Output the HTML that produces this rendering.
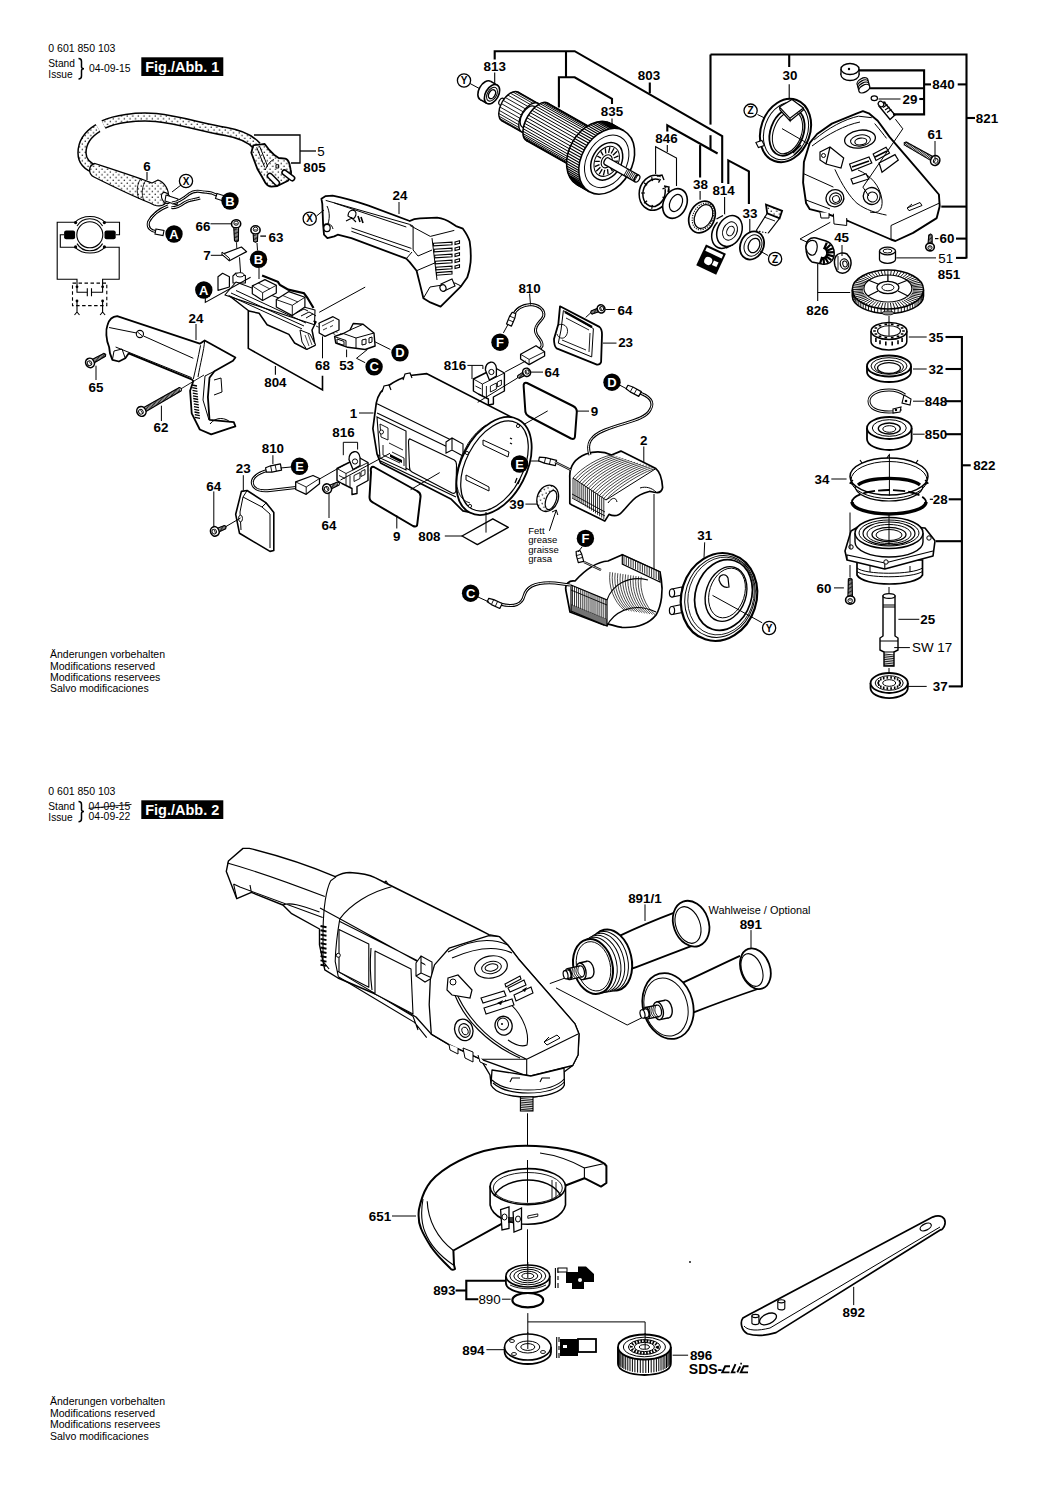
<!DOCTYPE html>
<html><head><meta charset="utf-8"><style>
html,body{margin:0;padding:0;background:#fff;}
svg{display:block;}
text{font-family:"Liberation Sans", sans-serif;}
</style></head><body>
<svg width="1050" height="1486" viewBox="0 0 1050 1486">
<rect width="1050" height="1486" fill="#fff"/>
<path d="M78.5,58.4 q3,0 3,3 v5.3 q0,2 2.5,2 q-2.5,0 -2.5,2 v5.2 q0,3 -3,3" fill="none" stroke="#000" stroke-width="1.5"/>
<rect x="141.3" y="57.3" width="82" height="18.7" fill="#000"/>
<path d="M78.5,801.4 q3,0 3,3 v5.2 q0,2 2.5,2 q-2.5,0 -2.5,2 v5.2 q0,3 -3,3" fill="none" stroke="#000" stroke-width="1.5"/>
<polyline points="88.6,808.4 131.5,804.4" fill="none" stroke="#000" stroke-width="0.9" />
<rect x="141.3" y="800.3" width="82" height="18.7" fill="#000"/>
<defs>
<pattern id="dots" width="5.6" height="5.6" patternUnits="userSpaceOnUse"><rect width="5.6" height="5.6" fill="#fff"/><circle cx="1.2" cy="1.2" r="0.75" fill="#000"/><circle cx="4" cy="4" r="0.75" fill="#000"/></pattern>
</defs>
<path d="M103.5,124.5 C115,119 135,116 156,117.5 C180,120 200,127 226,131.5 C240,134 250,138 257,146" fill="none" stroke="#000" stroke-width="9.5" stroke-linecap="butt"/>
<path d="M103.5,124.5 C115,119 135,116 156,117.5 C180,120 200,127 226,131.5 C240,134 250,138 257,146" fill="none" stroke="url(#dots)" stroke-width="6.5" stroke-linecap="butt"/>
<path d="M98,128 C88,134 82,143 82,153 C82,162 88,167 97,170" fill="none" stroke="#000" stroke-width="9.5" stroke-linecap="butt"/>
<path d="M98,128 C88,134 82,143 82,153 C82,162 88,167 97,170" fill="none" stroke="url(#dots)" stroke-width="6.5" stroke-linecap="butt"/>
<path d="M95,163.5 C115,170 140,178 152,183 L158,180 C164,182 170,190 168,198 C166,206 160,207 154,205 L150,203 C135,197 112,186 94,177 C88,174 88,165 95,163.5 Z" fill="url(#dots)" stroke="#000" stroke-width="1.3" stroke-linejoin="round" />
<path d="M141,178 C137,184 136,192 139,199 M146,180 C142,186 141,194 144,201" fill="none" stroke="#000" stroke-width="0.9"/>
<ellipse cx="166.0" cy="198.0" rx="4.0" ry="6.0" transform="rotate(-30 166.0 198.0)" fill="#fff" stroke="#000" stroke-width="1.1" />
<path d="M166,195 L178,199 L177,205 L165,201 Z" fill="#fff" stroke="#000" stroke-width="1.1" stroke-linejoin="round" />
<path d="M172,203 C178,202 183,199 188.6,194.3 C193,191 197,191 200,191.4 C205,192 208,192.5 211.4,192.9 L218,195.7 M171.4,207.6 C176,208 180,206 184,203 C190,199 195,200 200,198 M168,206 C160,209 152,215 148.5,222 C147,228 151,231 156,231.5" fill="none" stroke="#000" stroke-width="3.0"/>
<path d="M172,203 C178,202 183,199 188.6,194.3 C193,191 197,191 200,191.4 C205,192 208,192.5 211.4,192.9 L218,195.7 M171.4,207.6 C176,208 180,206 184,203 C190,199 195,200 200,198 M168,206 C160,209 152,215 148.5,222 C147,228 151,231 156,231.5" fill="none" stroke="#fff" stroke-width="1.0"/>
<path d="M217,193.5 l8,2.5 l-1.5,5 l-8,-2.5 z M156,229 l8,1.5 l-1,5 l-8,-1.5 z" fill="#fff" stroke="#000" stroke-width="1.1"/>
<path d="M253.3,145.3 L251.3,152.7 L257.3,168.7 L262,176.7 L265.3,182.7 C267,185 269,186.7 271.3,186.7 L277.3,186 L288,180.7 C291,177 291.5,173 290.7,170 L289.3,163.3 C288,160 287,159 285.3,158.7 L278.7,158 L274.7,155.3 L269.3,150 L264.7,144 L261.3,144.3 Z" fill="url(#dots)" stroke="#000" stroke-width="1.8" stroke-linejoin="round" />
<path d="M256.7,147.3 L264.7,167.3 M259.5,146 L267.5,166 M265.3,170 C267,165 270,161 274,159.5 M276,164.7 l2.7,0 l0,3.3 l-2.7,0 z" fill="none" stroke="#000" stroke-width="1.0"/>
<path d="M269.8,175.8 L277,183" stroke="#000" stroke-width="6.4" stroke-linecap="round"/>
<path d="M269.8,175.8 L277,183" stroke="#fff" stroke-width="3.4" stroke-linecap="round"/>
<path d="M284.5,172.5 L292.2,178.3" stroke="#000" stroke-width="6.4" stroke-linecap="round"/>
<path d="M284.5,172.5 L292.2,178.3" stroke="#fff" stroke-width="3.4" stroke-linecap="round"/>
<polyline points="254.0,135.0 300.0,135.0 300.0,163.0 291.0,163.0" fill="none" stroke="#000" stroke-width="1.3" />
<polyline points="300.0,151.0 316.0,151.0" fill="none" stroke="#000" stroke-width="1.3" />
<polyline points="147.0,172.0 147.0,180.0" fill="none" stroke="#000" stroke-width="1.1" />
<polyline points="181.0,185.0 172.0,192.0" fill="none" stroke="#000" stroke-width="1.0" />
<path d="M75.1,222.2 H57.2 V279.3 H77 V292.3 H87.3 M91.5,292.3 H102.6 V279.3 H119.2 V247.3 H104.9 M75.1,247.3 H60.3 V234.8 H64.1 M115.7,234.8 H119.5 V222.2 H104.9" fill="none" stroke="#000" stroke-width="1.1"/>
<path d="M87.3,288.3 V296.3 M91.5,288.3 V296.3" fill="none" stroke="#000" stroke-width="1.1"/>
<circle cx="89.8" cy="234.8" r="13" fill="#fff" stroke="#000" stroke-width="1.1"/>
<path d="M75.1,222.2 A19,15 0 0 1 104.9,222.2 M77,226 A15,15 0 0 1 102.6,226 M75.1,247.3 A19,15 0 0 0 104.9,247.3 M77,243.6 A15,15 0 0 0 102.6,243.6" fill="none" stroke="#000" stroke-width="1.1"/>
<circle cx="75.6" cy="222.6" r="1.6" fill="#000"/>
<circle cx="75.6" cy="246.9" r="1.6" fill="#000"/>
<circle cx="104.4" cy="222.6" r="1.6" fill="#000"/>
<circle cx="104.4" cy="246.9" r="1.6" fill="#000"/>
<rect x="64.1" y="230.6" width="11" height="8.7" rx="2" fill="#000"/><rect x="104.5" y="230.6" width="11.2" height="8.7" rx="2" fill="#000"/>
<rect x="72.5" y="283.1" width="34.3" height="22.5" fill="none" stroke="#000" stroke-width="1.1" stroke-dasharray="3.5,2.5"/>
<path d="M77,301 V312 M102.6,301 V312 M74.5,315 L77,312 L79.5,315 M100.1,315 L102.6,312 L105.1,315" fill="none" stroke="#000" stroke-width="1.1"/>
<circle cx="77" cy="286.8" r="1.4" fill="#000"/>
<circle cx="77" cy="301" r="1.4" fill="#000"/>
<circle cx="102.6" cy="286.8" r="1.4" fill="#000"/>
<circle cx="102.6" cy="301" r="1.4" fill="#000"/>
<polygon points="233.7,226.6 234.5,240.8 236.5,242.0 238.4,240.8 238.6,226.5" fill="#fff" stroke="#000" stroke-width="1.1" stroke-linejoin="round" />
<path d="M233.8,229.3 L238.7,230.0 M233.8,230.6 L238.7,231.4 M233.9,232.0 L238.7,232.7 M233.9,233.3 L238.7,234.1 M233.9,234.7 L238.8,235.4 M234.0,236.0 L238.8,236.8 M234.0,237.3 L238.8,238.1 M234.0,238.7 L238.9,239.5 M234.0,240.0 L238.9,240.8 " stroke="#000" stroke-width="0.85" fill="none"/>
<ellipse cx="236.1" cy="223.8" rx="4.1" ry="4.6" transform="rotate(88.74095479282471 236.1 223.8)" fill="#fff" stroke="#000" stroke-width="1.6" />
<ellipse cx="236.1" cy="223.2" rx="2.1" ry="2.3" transform="rotate(88.74095479282471 236.1 223.2)" fill="#fff" stroke="#000" stroke-width="0.9" />
<path d="M234.5,223.8 L237.7,223.8" stroke="#000" stroke-width="0.8"/>
<polygon points="253.1,232.7 253.6,241.2 255.5,242.4 257.4,241.2 257.9,232.7" fill="#fff" stroke="#000" stroke-width="1.1" stroke-linejoin="round" />
<path d="M253.1,235.3 L257.9,236.2 M253.1,236.7 L257.9,237.6 M253.1,238.0 L257.9,238.9 M253.1,239.3 L257.9,240.2 M253.1,240.7 L257.9,241.6 " stroke="#000" stroke-width="0.85" fill="none"/>
<ellipse cx="255.5" cy="229.9" rx="4.1" ry="4.6" transform="rotate(90.0 255.5 229.9)" fill="#fff" stroke="#000" stroke-width="1.6" />
<ellipse cx="255.5" cy="229.3" rx="2.1" ry="2.3" transform="rotate(90.0 255.5 229.3)" fill="#fff" stroke="#000" stroke-width="0.9" />
<path d="M253.9,229.9 L257.1,229.9" stroke="#000" stroke-width="0.8"/>
<polyline points="210.5,223.8 231.0,223.8" fill="none" stroke="#000" stroke-width="1.0" />
<polyline points="260.3,236.1 266.0,236.1" fill="none" stroke="#000" stroke-width="1.3" />
<polyline points="236.5,242.5 236.8,248.5" fill="none" stroke="#000" stroke-width="0.9" />
<polyline points="239.5,257.3 240.6,273.3" fill="none" stroke="#000" stroke-width="1.0" />
<polyline points="257.0,243.0 257.5,250.5" fill="none" stroke="#000" stroke-width="1.0" />
<polyline points="259.0,268.0 259.0,279.0" fill="none" stroke="#000" stroke-width="1.0" />
<polyline points="210.8,255.3 222.9,255.3" fill="none" stroke="#000" stroke-width="1.0" />
<polygon points="222.0,254.4 241.4,247.0 246.6,251.6 229.4,260.7" fill="#fff" stroke="#000" stroke-width="1.2" stroke-linejoin="round" />
<polygon points="222.0,254.4 229.4,260.7 229.4,258.2 222.0,252.0" fill="#fff" stroke="#000" stroke-width="1.0" stroke-linejoin="round" />
<polygon points="227.0,294.0 248.9,311.0 259.1,313.3 267.1,324.7 288.9,334.4 294.6,343.0 306.6,349.3 315.1,345.3 312.0,330.0 316.0,322.0 248.0,290.0" fill="#fff" stroke="#000" stroke-width="1.5" stroke-linejoin="round" />
<polygon points="300.0,330.0 310.0,334.0 315.5,345.0 306.6,349.3 302.0,342.0" fill="#fff" stroke="#000" stroke-width="1.0" stroke-linejoin="round" />
<path d="M305,335 L309,346 M308,334 L312,345" stroke="#000" stroke-width="0.7"/>
<polygon points="218.0,290.4 218.0,276.7 222.6,273.3 229.4,276.7 229.4,287.0" fill="#fff" stroke="#000" stroke-width="1.2" stroke-linejoin="round" />
<polygon points="232.9,276.0 236.0,273.0 245.4,275.6 245.4,283.0 233.0,283.0" fill="#fff" stroke="#000" stroke-width="1.1" stroke-linejoin="round" />
<ellipse cx="240.0" cy="274.8" rx="4.0" ry="2.2" transform="rotate(0 240.0 274.8)" fill="#fff" stroke="#000" stroke-width="0.9" />
<polygon points="224.9,295.0 236.0,282.0 300.0,306.0 315.0,310.0 314.5,324.7 300.0,320.0" fill="#fff" stroke="#000" stroke-width="1.1" stroke-linejoin="round" />
<polygon points="252.3,285.9 264.9,279.6 276.3,285.3 276.3,293.0 262.6,300.5 252.3,293.7" fill="#fff" stroke="#000" stroke-width="1.2" stroke-linejoin="round" />
<polyline points="252.3,285.9 262.6,292.7 276.3,285.3" fill="none" stroke="#000" stroke-width="0.9" />
<polyline points="262.6,292.7 262.6,300.5" fill="none" stroke="#000" stroke-width="0.9" />
<polyline points="258.0,282.8 270.0,289.0" fill="none" stroke="#000" stroke-width="0.8" />
<polygon points="276.3,299.6 288.9,291.6 304.9,297.3 304.9,307.0 292.3,315.6 276.3,307.0" fill="#fff" stroke="#000" stroke-width="1.2" stroke-linejoin="round" />
<polyline points="276.3,299.6 292.3,305.3 304.9,297.3" fill="none" stroke="#000" stroke-width="0.9" />
<polyline points="292.3,305.3 292.3,315.6" fill="none" stroke="#000" stroke-width="0.9" />
<polyline points="283.0,295.6 298.0,302.0" fill="none" stroke="#000" stroke-width="0.8" />
<path d="M262.1,275.5 L277.9,281.8 L280,285 L288.3,289.6 L304,293.3 L307.2,297.5 L313.5,308" fill="none" stroke="#000" stroke-width="2.2"/>
<path d="M228.6,295.4 L302,328.9 M231,293 L304,326 M236,290.5 L306,323" fill="none" stroke="#000" stroke-width="1.0"/>
<path d="M296,313 l8,-4 l4,2 M301,316 l8,-4 l4,2 M306,318 l7,-4 l3,2" stroke="#000" stroke-width="1" fill="none"/>
<polyline points="248.3,311.0 248.3,348.4 322.5,390.0 322.5,375.8" fill="none" stroke="#000" stroke-width="1.6" />
<polyline points="275.4,366.0 275.4,374.8" fill="none" stroke="#000" stroke-width="1.1" />
<polyline points="205.3,298.0 205.3,302.4 250.6,277.3" fill="none" stroke="#000" stroke-width="1.1" />
<polyline points="319.2,312.3 365.2,287.1" fill="none" stroke="#000" stroke-width="1.0" />
<polyline points="313.0,321.0 343.0,335.0" fill="none" stroke="#000" stroke-width="0.8" stroke-dasharray="3,3"/>
<polyline points="316.0,326.0 350.0,341.0" fill="none" stroke="#000" stroke-width="0.8" stroke-dasharray="3,3"/>
<polygon points="319.2,323.0 333.0,316.7 339.0,320.0 339.0,330.0 325.0,336.4 319.2,333.0" fill="#fff" stroke="#000" stroke-width="1.3" stroke-linejoin="round" />
<path d="M322,326 l12,-6 M323,330 l4,-2 M330,327 l3,-1.5" stroke="#000" stroke-width="0.8" fill="none"/>
<polyline points="322.5,336.4 322.5,358.3" fill="none" stroke="#000" stroke-width="1.0" />
<polygon points="353.2,323.5 363.1,324.3 374.0,333.0 375.1,346.0 365.2,349.5 347.7,347.3 335.7,343.0 334.6,336.4 343.3,333.5 350.0,330.0" fill="#fff" stroke="#000" stroke-width="1.4" stroke-linejoin="round" />
<path d="M343.3,333.5 L356,338 L374,333 M356,338 L356,348.5 M335,336.8 L346,340.5 L346,347 M337,339 l7,2.4 l0,4 l-7,-2.4 z M362,340 l4,-1 l0,5 l-4,1 z M369,338 l3,-1 l0,5 l-3,1 z M350,330 L363.1,324.3" fill="none" stroke="#000" stroke-width="1.0"/>
<polyline points="346.6,349.5 346.6,357.2" fill="none" stroke="#000" stroke-width="1.0" />
<polyline points="365.2,362.7 356.5,358.3 367.4,349.5" fill="none" stroke="#000" stroke-width="1.0" />
<polyline points="375.1,341.9 390.4,349.5" fill="none" stroke="#000" stroke-width="1.0" />
<path d="M117.2,316.2 L199.8,343.7 L204.7,340.5 L235.4,357.5 L233,360.7 L214.4,371.2 L209.5,377.7 L207.9,397.1 L209.5,419.8 L233.8,422.2 L235.4,426.3 L230.6,427.9 L211.2,434.4 L199.8,429.5 L191.7,413.3 L190.1,390.7 L193.3,381 L191.7,379.3 L128.6,353.4 L125.3,358.3 L118.9,361.5 L112.4,359.9 L110,353.4 L109.1,347 C106,340 105.5,330 107.5,325 C109,320 112,316.5 117.2,316.2 Z" fill="#fff" stroke="#000" stroke-width="1.8" stroke-linejoin="round" />
<path d="M109.1,327.5 L136.5,333 M143.5,336 L193.3,358.3 M115.6,347 L191.7,377.7 M200.6,345.3 C198,358 196,368 193.3,379 M204.7,340.5 C204,350 200,365 198,377 M214.4,371.2 L205,376 L203,400 L209,420 M214,380 L221,378 L222,392 L214,395 M210,424 C216,416 226,418 230,422 M112.4,359.9 L114,351 L122,349 L125.3,358.3" fill="none" stroke="#000" stroke-width="1.0"/>
<circle cx="139.9" cy="334" r="3.6" fill="#fff" stroke="#000" stroke-width="1.1"/><path d="M137.5,332 l4.8,4" stroke="#000" stroke-width="0.9"/>
<path d="M192.0,385.0 l5,1 M192.2,387.7 l5,1 M192.5,390.4 l5,1 M192.8,393.1 l5,1 M193.0,395.8 l5,1 M193.2,398.5 l5,1 M193.5,401.2 l5,1 M193.8,403.9 l5,1 M194.0,406.6 l5,1 M194.2,409.3 l5,1 M194.5,412.0 l5,1 M194.8,414.7 l5,1 M195.0,417.4 l5,1 " stroke="#000" stroke-width="1.3" fill="none"/>
<polygon points="93.5,363.3 105.4,356.3 105.7,354.3 103.9,353.4 91.5,359.7" fill="#fff" stroke="#000" stroke-width="1.1" stroke-linejoin="round" />
<path d="M95.7,362.1 L94.5,358.1 M96.9,361.5 L95.7,357.4 M98.1,360.8 L96.9,356.8 M99.3,360.2 L98.1,356.1 M100.5,359.5 L99.3,355.5 M101.7,358.9 L100.5,354.8 M102.8,358.2 L101.6,354.2 M104.0,357.6 L102.8,353.5 M105.2,356.9 L104.0,352.9 " stroke="#000" stroke-width="0.85" fill="none"/>
<ellipse cx="90.0" cy="362.9" rx="4.3" ry="4.8" transform="rotate(-28.712636605376396 90.0 362.9)" fill="#fff" stroke="#000" stroke-width="1.6" />
<ellipse cx="89.5" cy="363.2" rx="2.2" ry="2.4" transform="rotate(-28.712636605376396 89.5 363.2)" fill="#fff" stroke="#000" stroke-width="0.9" />
<path d="M90.8,364.4 L89.2,361.4" stroke="#000" stroke-width="0.8"/>
<polygon points="145.1,411.9 181.3,390.8 181.4,388.6 179.4,387.6 142.9,407.9" fill="#fff" stroke="#000" stroke-width="1.1" stroke-linejoin="round" />
<path d="M147.2,410.7 L145.7,406.3 M148.4,410.1 L146.9,405.6 M149.6,409.4 L148.1,404.9 M150.7,408.7 L149.3,404.3 M151.9,408.0 L150.4,403.6 M153.1,407.4 L151.6,402.9 M154.3,406.7 L152.8,402.3 M155.4,406.0 L153.9,401.6 M156.6,405.4 L155.1,400.9 M157.8,404.7 L156.3,400.3 M159.0,404.0 L157.5,399.6 M160.1,403.4 L158.6,398.9 M161.3,402.7 L159.8,398.3 M162.5,402.0 L161.0,397.6 M163.7,401.4 L162.2,396.9 M164.8,400.7 L163.3,396.3 M166.0,400.0 L164.5,395.6 M167.2,399.4 L165.7,394.9 M168.3,398.7 L166.8,394.2 M169.5,398.0 L168.0,393.6 M170.7,397.4 L169.2,392.9 M171.9,396.7 L170.4,392.2 M173.0,396.0 L171.5,391.6 M174.2,395.3 L172.7,390.9 M175.4,394.7 L173.9,390.2 M176.6,394.0 L175.1,389.6 M177.7,393.3 L176.2,388.9 M178.9,392.7 L177.4,388.2 M180.1,392.0 L178.6,387.6 " stroke="#000" stroke-width="0.85" fill="none"/>
<ellipse cx="141.4" cy="411.4" rx="4.5" ry="5.0" transform="rotate(-29.683140179123253 141.4 411.4)" fill="#fff" stroke="#000" stroke-width="1.6" />
<ellipse cx="140.9" cy="411.7" rx="2.2" ry="2.5" transform="rotate(-29.683140179123253 140.9 411.7)" fill="#fff" stroke="#000" stroke-width="0.9" />
<path d="M142.3,412.9 L140.5,409.9" stroke="#000" stroke-width="0.8"/>
<polyline points="96.0,365.7 96.0,380.0" fill="none" stroke="#000" stroke-width="1.0" />
<polyline points="161.4,405.7 161.4,421.0" fill="none" stroke="#000" stroke-width="1.0" />
<polyline points="181.4,388.6 204.0,375.0" fill="none" stroke="#000" stroke-width="0.9" />
<polyline points="196.0,324.0 196.0,340.0" fill="none" stroke="#000" stroke-width="1.0" />
<path d="M321.4,198.7 L325.7,196.1 L332.6,195.6 C345,198 358,202 368.6,205.6 L409.7,221 C413,219 416,218.5 420,218.4 L437.1,217.6 C443,218.5 447,220 450.9,222.7 L456,226.1 L462.9,228.7 C466,233 468.5,237 469.7,241.6 C471,250 471,256 470.6,262.1 C470,268 469,273 467.2,277.6 L461.2,286.1 L440.6,306.7 L430.3,302.4 L423.4,298.2 L420,284.4 L416.6,270.7 L409.7,262.1 L406.3,258.7 L351.4,238.1 L337.7,234.7 L334.3,236.4 L327.4,238.1 L324,234.7 L323.1,224.4 L322.3,203.9 Z" fill="#fff" stroke="#000" stroke-width="1.8" stroke-linejoin="round" />
<path d="M325.7,200.4 L409.7,224.4 L413.1,226.1 M334.3,203 L406.3,227 M351.4,227.9 L411.4,248.4 M351.4,231.3 L409.7,251.9 M409.7,225.3 L430.3,236.4 L454.3,230.4 M413.1,226.1 L413.1,250 L418,256 L432,250 M432,238.1 L437,280 M416.6,270.7 L437,262 M423.4,298.2 L430,287 L455,283 L461.2,286.1 M406.3,258.7 L412,252
M327,206 C330,212 330,220 327,226 M323.5,225 C327,222 332,224 333,229" fill="none" stroke="#000" stroke-width="1.0"/>
<path d="M433.5,243.3 L452,242.1 L452,244.7 L433.5,245.9 Z M434.1,249.3 L452,248.1 L452,250.7 L434.1,251.9 Z M434.7,255.3 L452,254.1 L452,256.7 L434.7,257.9 Z M435.3,261.3 L452,260.1 L452,262.7 L435.3,263.9 Z M435.9,267.3 L452,266.1 L452,268.7 L435.9,269.9 Z M436.5,272.6 L452,271.4 L452,274.0 L436.5,275.2 Z " fill="#fff" stroke="#000" stroke-width="1.1"/>
<path d="M455,242.0 l4.5,-1.2 l0,2.6 l-4.5,1.2 z M455,248.0 l4.5,-1.2 l0,2.6 l-4.5,1.2 z M455,254.0 l4.5,-1.2 l0,2.6 l-4.5,1.2 z M455,260.0 l4.5,-1.2 l0,2.6 l-4.5,1.2 z M455,266.0 l4.5,-1.2 l0,2.6 l-4.5,1.2 z " fill="#fff" stroke="#000" stroke-width="1.1"/>
<path d="M441,284 L452,279 L455,286 L444,291 Z" fill="#fff" stroke="#000" stroke-width="1.1"/>
<ellipse cx="443.0" cy="288.0" rx="3.0" ry="3.3" transform="rotate(-20 443.0 288.0)" fill="#fff" stroke="#000" stroke-width="1.2" />
<ellipse cx="327.0" cy="228.0" rx="3.2" ry="3.6" transform="rotate(0 327.0 228.0)" fill="#fff" stroke="#000" stroke-width="1.2" />
<path d="M348,216 C348,211 352,209 355,211 C357,213 356,217 353,219 Z M346,221 L352,218 L356,222" fill="#fff" stroke="#000" stroke-width="1.1"/>
<path d="M358,216 l2,6 M361,217 l2,6" stroke="#000" stroke-width="1.6"/>
<polyline points="399.0,202.0 399.0,214.0" fill="none" stroke="#000" stroke-width="1.0" />
<polyline points="316.5,216.0 324.0,210.0" fill="none" stroke="#000" stroke-width="1.0" />
<path d="M376.3,402.9 C378,395 382,389 388,386 C395,381 402,377.5 410,375.5 L426.9,373.7 L516,419.5 L522,424 L480,514.3 L462.9,510.9 L450.9,498.9 L380.6,462.9 L377.1,454.3 L372.9,428.6 Z" fill="#fff" stroke="#000" stroke-width="1.7" stroke-linejoin="round" />
<path d="M382,392 l2,-6 l5,-1 l2,5 M403,380 l2,-6 l5,-1 l2,5" fill="#fff" stroke="#000" stroke-width="1.2"/>
<path d="M377.1,403.7 L462.9,445.7 M377.1,413.1 L456,450.9 M380.6,461.1 L456,497.1 M378,455 L452,490" fill="none" stroke="#000" stroke-width="1.1"/>
<path d="M377,417 L406,431 L406,470 L380,458 Z" fill="#fff" stroke="#000" stroke-width="1.1"/>
<path d="M380,424 L388,428 L388,440 L381,437 Z M389,443 L403,450 M383,445 L383,455 L400,463 M392,452 L404,458 L404,466" fill="none" stroke="#000" stroke-width="0.9"/>
<circle cx="381.5" cy="432" r="2" fill="#fff" stroke="#000" stroke-width="0.9"/>
<path d="M390,454 l12,6 l0,3 l-12,-6 z" fill="#000"/>
<path d="M410,438.9 L454.3,460 C456,461 456.5,463 456.5,465 L456,490 C456,493 454,494 452,493 L412,472 C410,471 409.5,469 409.5,467 L408.5,442 C408.5,440 409,439 410,438.9 Z" fill="#fff" stroke="#000" stroke-width="1.1"/>
<path d="M446,442 L452,438 L463,444 L463,456 L452,450 L446,453 Z M452,438 L452,450" fill="#fff" stroke="#000" stroke-width="1.1"/>
<ellipse cx="494.0" cy="466.0" rx="32.5" ry="52.5" transform="rotate(27.5 494.0 466.0)" fill="#fff" stroke="#000" stroke-width="1.8" />
<ellipse cx="494.5" cy="466.0" rx="28.5" ry="48.5" transform="rotate(27.5 494.5 466.0)" fill="#fff" stroke="#000" stroke-width="1.2" />
<path d="M486,425 A26,45 27.5 0 0 470,503" fill="none" stroke="#000" stroke-width="0.9"/>
<path d="M483,440 L509,452 L508,457 L483,445 Z M466,475 L489,487 L489,491 L466,480 Z" fill="#fff" stroke="#000" stroke-width="1.0"/>
<path d="M510,438 l2,1 M510,443 l2,1 M517,478 l-2,5 M520,479 l-2,5" stroke="#000" stroke-width="1.3"/>
<circle cx="467" cy="453" r="1.6" fill="#fff" stroke="#000" stroke-width="0.9"/><circle cx="470" cy="506" r="1.6" fill="#fff" stroke="#000" stroke-width="0.9"/><circle cx="518" cy="426" r="1.6" fill="#fff" stroke="#000" stroke-width="0.9"/>
<polyline points="359.0,413.0 373.5,413.0" fill="none" stroke="#000" stroke-width="1.0" />
<path d="M374,467 Q370,466 371,472 L369.5,497 Q369.5,501 373,502.5 L413,526 Q417.4,528 417.4,523 L420.5,497 Q421,493 417,491 Z" fill="#fff" stroke="#000" stroke-width="2.0" stroke-linejoin="round" />
<polyline points="410.6,489.7 439.7,472.6" fill="none" stroke="#000" stroke-width="1.0" />
<polyline points="396.8,515.4 396.8,528.5" fill="none" stroke="#000" stroke-width="1.0" />
<path d="M527,383 Q523,382 523.7,387 L525.4,412 Q526,415 529,416.5 L571,438.5 Q575,440 575,436 L576.8,412 Q577,408 573,406 Z" fill="#fff" stroke="#000" stroke-width="2.0" stroke-linejoin="round" />
<polyline points="547.7,410.9 523.7,424.6" fill="none" stroke="#000" stroke-width="1.0" />
<polyline points="576.9,411.1 589.0,411.1" fill="none" stroke="#000" stroke-width="1.0" />
<polygon points="462.0,536.0 492.8,518.8 508.3,527.4 477.4,544.6" fill="#fff" stroke="#000" stroke-width="1.4" stroke-linejoin="round" />
<polyline points="486.0,512.0 486.0,532.6" fill="none" stroke="#000" stroke-width="1.0" />
<polyline points="444.8,536.0 462.0,536.0" fill="none" stroke="#000" stroke-width="1.0" />
<ellipse cx="547.7" cy="498.3" rx="10.5" ry="13.5" transform="rotate(20 547.7 498.3)" fill="url(#dots)" stroke="#000" stroke-width="1.3" />
<ellipse cx="551.0" cy="500.0" rx="5.0" ry="10.0" transform="rotate(20 551.0 500.0)" fill="#fff" stroke="#000" stroke-width="1.2" />
<polyline points="525.4,504.1 537.0,504.1" fill="none" stroke="#000" stroke-width="1.0" />
<path d="M549.4,530.8 L556.3,510 M552,512 l4.3,-2 l1.5,5" fill="none" stroke="#000" stroke-width="1.0"/>
<polyline points="531.0,461.0 539.0,461.0" fill="none" stroke="#000" stroke-width="1.0" />
<path d="M569.8,478 C569,465 576,458 586,454 C595,451 603,451 611.5,455 L620.9,451.1 L655.9,468.6 C660,472 662,478 662.6,487.5 C662,491 660,493 656,492.5 C652,492 650,491 649.2,491.5 C643,493 637,496 633,500 C628,505 625,509 622,512 C619,515.5 614,516.5 609,514.4 L604.8,521.1 L572,505 L569.8,503.6 Z" fill="#fff" stroke="#000" stroke-width="1.7" stroke-linejoin="round" />
<path d="M611.5,455.0 C599.5,457.0 581.0,468.0 573.0,478.0 M614.5,455.9 C602.5,457.9 583.2,469.5 575.2,479.5 M617.4,456.8 C605.4,458.8 585.4,470.9 577.4,480.9 M620.4,457.7 C608.4,459.7 587.6,472.4 579.6,482.4 M623.3,458.6 C611.3,460.6 589.8,473.9 581.8,483.9 M626.3,459.5 C614.3,461.5 592.0,475.3 584.0,485.3 M629.3,460.4 C617.3,462.4 594.2,476.8 586.2,486.8 M632.2,461.3 C620.2,463.3 596.4,478.3 588.4,488.3 M635.2,462.3 C623.2,464.3 598.6,479.7 590.6,489.7 M638.1,463.2 C626.1,465.2 600.8,481.2 592.8,491.2 M641.1,464.1 C629.1,466.1 603.0,482.7 595.0,492.7 M644.1,465.0 C632.1,467.0 605.2,484.1 597.2,494.1 M647.0,465.9 C635.0,467.9 607.4,485.6 599.4,495.6 M650.0,466.8 C638.0,468.8 609.6,487.1 601.6,497.1 M652.9,467.7 C640.9,469.7 611.8,488.5 603.8,498.5 M655.9,468.6 C643.9,470.6 614.0,490.0 606.0,500.0 " stroke="#000" stroke-width="0.75" fill="none"/>
<path d="M573,478 L606,500 L655.9,468.6" fill="none" stroke="#000" stroke-width="1.0"/>
<path d="M573.0,478.0 L573.0,498.0 M575.0,479.4 L575.0,499.4 M577.1,480.8 L577.1,500.8 M579.1,482.2 L579.1,502.2 M581.2,483.6 L581.2,503.6 M583.2,485.0 L583.2,505.0 M585.3,486.4 L585.3,506.4 M587.4,487.8 L587.4,507.8 M589.4,489.2 L589.4,509.2 M591.5,490.6 L591.5,510.6 M593.5,492.0 L593.5,512.0 M595.5,493.4 L595.5,513.4 M597.6,494.8 L597.6,514.8 M599.6,496.2 L599.6,516.2 M601.7,497.6 L601.7,517.6 M603.8,499.0 L603.8,519.0 " stroke="#000" stroke-width="0.8" fill="none"/>
<path d="M572,494 L605,512 M572,498 L605,516" fill="none" stroke="#000" stroke-width="0.9"/>
<path d="M608,503 C612,497 616,497 617,502 M640,488 C646,486 652,488 656,492" fill="none" stroke="#000" stroke-width="1.0"/>
<polyline points="643.8,446.5 643.8,462.3" fill="none" stroke="#000" stroke-width="1.0" />
<polyline points="654.0,494.0 654.0,570.3" fill="none" stroke="#000" stroke-width="1.0" />
<polygon points="538.6,460.9 544.3,463.1 555.4,465.7 556.6,460.3 545.6,457.7 539.4,457.1" fill="#fff" stroke="#000" stroke-width="1.2" stroke-linejoin="round" />
<path d="M544.3,463.1 L545.6,457.7 M549.4,464.3 L550.7,458.9" stroke="#000" stroke-width="0.9"/>
<path d="M555,462 L571,470" fill="none" stroke="#000" stroke-width="2.4"/><path d="M555,462 L571,470" fill="none" stroke="#fff" stroke-width="0.7"/>
<path d="M637,392 C650,396 655,402 650,410 C645,420 625,422 605,430 C590,436 586,444 590,455" fill="none" stroke="#000" stroke-width="3.0"/><path d="M637,392 C650,396 655,402 650,410 C645,420 625,422 605,430 C590,436 586,444 590,455" fill="none" stroke="#fff" stroke-width="1.0"/>
<polygon points="626.1,388.7 630.2,391.9 638.7,396.4 641.3,391.6 632.9,387.0 627.9,385.3" fill="#fff" stroke="#000" stroke-width="1.2" stroke-linejoin="round" />
<path d="M630.2,391.9 L632.9,387.0 M634.1,394.0 L636.8,389.1" stroke="#000" stroke-width="0.9"/>
<polyline points="619.5,385.0 627.0,389.0" fill="none" stroke="#000" stroke-width="1.0" />
<path d="M565.8,590 C565,584 569,580 575,581 C585,570 595,562 608,561 L622.3,554.7 L660,572 L661.3,580 C663,590 662,605 656,615 C648,625 635,628 622,627.4 C612,626 607,622 604,625 L570,612 Z" fill="#fff" stroke="#000" stroke-width="1.7" stroke-linejoin="round" />
<path d="M571,585 L607,600 L607,626 L571,611 Z" fill="#fff" stroke="#000" stroke-width="1.2"/>
<path d="M572.5,585.5 L572.5,605.5 M574.5,586.4 L574.5,606.4 M576.6,587.2 L576.6,607.2 M578.6,588.0 L578.6,608.0 M580.7,588.9 L580.7,608.9 M582.8,589.8 L582.8,609.8 M584.8,590.6 L584.8,610.6 M586.9,591.5 L586.9,611.5 M588.9,592.3 L588.9,612.3 M591.0,593.1 L591.0,613.1 M593.0,594.0 L593.0,614.0 M595.0,594.9 L595.0,614.9 M597.1,595.7 L597.1,615.7 M599.1,596.5 L599.1,616.5 M601.2,597.4 L601.2,617.4 M603.2,598.2 L603.2,618.2 M605.3,599.1 L605.3,619.1 " stroke="#000" stroke-width="0.8" fill="none"/>
<path d="M571,604 L607,619 L607,626 L571,611 Z" fill="#000" opacity="0.55"/>
<path d="M571,590 L607,605" stroke="#000" stroke-width="0.9"/>
<path d="M622.3,554.7 L660,572 L660,582 L622.3,564 Z" fill="#fff" stroke="#000" stroke-width="1.2"/>
<path d="M624.0,555.5 L624.0,564.0 M626.3,556.6 L626.3,565.1 M628.6,557.7 L628.6,566.2 M630.9,558.7 L630.9,567.2 M633.2,559.8 L633.2,568.3 M635.5,560.9 L635.5,569.4 M637.8,562.0 L637.8,570.5 M640.1,563.1 L640.1,571.6 M642.4,564.1 L642.4,572.6 M644.7,565.2 L644.7,573.7 M647.0,566.3 L647.0,574.8 M649.3,567.4 L649.3,575.9 M651.6,568.5 L651.6,577.0 M653.9,569.5 L653.9,578.0 M656.2,570.6 L656.2,579.1 M658.5,571.7 L658.5,580.2 " stroke="#000" stroke-width="0.8" fill="none"/>
<path d="M610.0,572.0 C608.0,586.0 614.0,602.0 624.0,610.0 M612.6,572.4 C610.6,586.4 616.6,602.4 626.6,610.4 M615.2,572.8 C613.2,586.8 619.2,602.8 629.2,610.8 M617.8,573.2 C615.8,587.2 621.8,603.2 631.8,611.2 M620.4,573.6 C618.4,587.6 624.4,603.6 634.4,611.6 M623.0,574.0 C621.0,588.0 627.0,604.0 637.0,612.0 M625.6,574.4 C623.6,588.4 629.6,604.4 639.6,612.4 M628.2,574.8 C626.2,588.8 632.2,604.8 642.2,612.8 M630.8,575.2 C628.8,589.2 634.8,605.2 644.8,613.2 M633.4,575.6 C631.4,589.6 637.4,605.6 647.4,613.6 M636.0,576.0 C634.0,590.0 640.0,606.0 650.0,614.0 M638.6,576.4 C636.6,590.4 642.6,606.4 652.6,614.4 M641.2,576.8 C639.2,590.8 645.2,606.8 655.2,614.8 " stroke="#000" stroke-width="0.7" fill="none"/>
<path d="M607,600 C612,585 628,575 648,580 M607,626 C612,615 630,600 656,612" fill="none" stroke="#000" stroke-width="1.1"/>
<path d="M500,604 C515,608 522,604 524,596 C527,584 540,582 555,583 L570,585" fill="none" stroke="#000" stroke-width="3.0"/><path d="M500,604 C515,608 522,604 524,596 C527,584 540,582 555,583 L570,585" fill="none" stroke="#fff" stroke-width="1.0"/>
<polygon points="487.2,601.7 491.4,604.6 499.8,608.5 502.2,603.5 493.7,599.6 488.8,598.3" fill="#fff" stroke="#000" stroke-width="1.2" stroke-linejoin="round" />
<path d="M491.4,604.6 L493.7,599.6 M495.3,606.4 L497.6,601.4" stroke="#000" stroke-width="0.9"/>
<polyline points="478.0,597.0 489.0,602.0" fill="none" stroke="#000" stroke-width="1.0" />
<path d="M584,562 L601,570" fill="none" stroke="#000" stroke-width="2.4"/><path d="M584,562 L601,570" fill="none" stroke="#fff" stroke-width="0.7"/>
<polygon points="576.1,551.5 576.4,555.6 578.3,562.7 583.7,561.3 581.7,554.1 579.9,550.5" fill="#fff" stroke="#000" stroke-width="1.2" stroke-linejoin="round" />
<path d="M576.4,555.6 L581.7,554.1 M577.3,558.9 L582.6,557.4" stroke="#000" stroke-width="0.9"/>
<polyline points="582.0,547.0 578.0,552.0" fill="none" stroke="#000" stroke-width="1.0" />
<path d="M672,589 l10,-2 l0,8 l-10,2 z M672,606.5 l10,-2 l0,8 l-10,2 z" fill="#fff" stroke="#000" stroke-width="1.2"/>
<ellipse cx="672.0" cy="593.0" rx="2.6" ry="4.0" transform="rotate(0 672.0 593.0)" fill="#fff" stroke="#000" stroke-width="1.2" />
<ellipse cx="672.0" cy="610.5" rx="2.6" ry="4.0" transform="rotate(0 672.0 610.5)" fill="#fff" stroke="#000" stroke-width="1.2" />
<ellipse cx="719.0" cy="597.0" rx="37.5" ry="44.5" transform="rotate(18 719.0 597.0)" fill="#fff" stroke="#000" stroke-width="2.2" />
<ellipse cx="720.0" cy="596.5" rx="34.5" ry="41.5" transform="rotate(18 720.0 596.5)" fill="none" stroke="#000" stroke-width="1.0" />
<ellipse cx="721.0" cy="596.0" rx="32.5" ry="39.5" transform="rotate(18 721.0 596.0)" fill="none" stroke="#000" stroke-width="0.8" />
<ellipse cx="723.5" cy="595.0" rx="28.0" ry="36.0" transform="rotate(18 723.5 595.0)" fill="#fff" stroke="#000" stroke-width="1.7" />
<ellipse cx="726.0" cy="594.0" rx="20.0" ry="28.0" transform="rotate(18 726.0 594.0)" fill="none" stroke="#000" stroke-width="1.4" />
<ellipse cx="727.0" cy="593.0" rx="17.5" ry="25.5" transform="rotate(18 727.0 593.0)" fill="none" stroke="#000" stroke-width="0.9" />
<path d="M719,580 C719,574 726,573 728,578 L729,587 C725,588 721,586 719,580 Z" fill="#fff" stroke="#000" stroke-width="1.2"/>
<polyline points="762.2,622.8 712.5,595.4" fill="none" stroke="#000" stroke-width="1.0" />
<polyline points="704.7,542.3 704.0,557.7" fill="none" stroke="#000" stroke-width="1.0" />
<path d="M473.4,379 L495.4,368 L504.4,373 L504.4,391 L493.4,397 L493.4,404 L488.4,405 L488.4,399 L478.4,394 L473.4,391 Z" fill="#fff" stroke="#000" stroke-width="1.4" stroke-linejoin="round"/>
<path d="M473.4,379 L482.4,384 L504.4,373 M482.4,384 L482.4,396 M475.4,386 L481.4,389 M486.4,386 L486.4,398 M490.4,386 l6,-3 l0,6 l-6,3 z M497.4,382 l4,-2 l0,5 l-4,2 z" fill="none" stroke="#000" stroke-width="0.9"/>
<path d="M485.4,370 C485.4,361 495.4,359 496.4,368 L496.4,376 L489.4,380 Z" fill="#fff" stroke="#000" stroke-width="1.3"/>
<circle cx="491.4" cy="372" r="2.6" fill="#fff" stroke="#000" stroke-width="1"/>
<path d="M337,468.5 L359,457.5 L368,462.5 L368,480.5 L357,486.5 L357,493.5 L352,494.5 L352,488.5 L342,483.5 L337,480.5 Z" fill="#fff" stroke="#000" stroke-width="1.4" stroke-linejoin="round"/>
<path d="M337,468.5 L346,473.5 L368,462.5 M346,473.5 L346,485.5 M339,475.5 L345,478.5 M350,475.5 L350,487.5 M354,475.5 l6,-3 l0,6 l-6,3 z M361,471.5 l4,-2 l0,5 l-4,2 z" fill="none" stroke="#000" stroke-width="0.9"/>
<path d="M349,459.5 C349,450.5 359,448.5 360,457.5 L360,465.5 L353,469.5 Z" fill="#fff" stroke="#000" stroke-width="1.3"/>
<circle cx="355" cy="461.5" r="2.6" fill="#fff" stroke="#000" stroke-width="1"/>
<polyline points="467.4,365.4 482.9,365.4" fill="none" stroke="#000" stroke-width="1.0" />
<polyline points="472.0,365.4 472.0,379.0" fill="none" stroke="#000" stroke-width="1.0" />
<polyline points="482.9,365.4 482.9,369.0" fill="none" stroke="#000" stroke-width="1.0" />
<polyline points="343.3,442.3 357.6,442.3" fill="none" stroke="#000" stroke-width="1.0" />
<polyline points="343.3,442.3 343.3,455.2" fill="none" stroke="#000" stroke-width="1.0" />
<polyline points="357.6,442.3 357.6,449.5" fill="none" stroke="#000" stroke-width="1.0" />
<path d="M530.9,304.6 C524,305 516,308 513,316 M530.9,304.6 C538,305 545,309 543.7,316 C542,321 535,324 535.5,331 C536,337 543,340 542,346 L540,349" fill="none" stroke="#000" stroke-width="3.0"/><path d="M530.9,304.6 C524,305 516,308 513,316 M530.9,304.6 C538,305 545,309 543.7,316 C542,321 535,324 535.5,331 C536,337 543,340 542,346 L540,349" fill="none" stroke="#fff" stroke-width="1.0"/>
<polyline points="529.6,293.5 530.5,304.6" fill="none" stroke="#000" stroke-width="1.0" />
<polygon points="512.2,312.3 509.7,316.1 506.5,323.9 511.5,326.1 514.8,318.3 515.8,313.7" fill="#fff" stroke="#000" stroke-width="1.2" stroke-linejoin="round" />
<path d="M509.7,316.1 L514.8,318.3 M508.2,319.7 L513.3,321.9" stroke="#000" stroke-width="0.9"/>
<polyline points="507.7,325.0 503.4,332.9" fill="none" stroke="#000" stroke-width="1.0" />
<polygon points="520.6,354.3 536.0,345.7 544.6,351.7 544.6,356.0 529.1,364.6 520.6,359.0" fill="#fff" stroke="#000" stroke-width="1.3" stroke-linejoin="round" />
<polyline points="520.6,354.3 529.1,359.4 544.6,351.7" fill="none" stroke="#000" stroke-width="0.9" />
<polyline points="529.1,359.4 529.1,364.6" fill="none" stroke="#000" stroke-width="0.9" />
<polyline points="525.7,361.0 505.1,372.0" fill="none" stroke="#000" stroke-width="1.0" />
<path d="M560,306.3 L599.4,326.9 Q602,329 602,334.6 L601.1,362 Q600,365 596.9,364.6 L556.6,348.3 Q554,346 554,338.9 L558.3,324.3 Z" fill="#fff" stroke="#000" stroke-width="1.8" stroke-linejoin="round" />
<path d="M563.4,310.6 L593.4,328.6 L591.7,356.9 L558.3,343.1 L561,330 Z" fill="#fff" stroke="#000" stroke-width="1.0" stroke-linejoin="round" />
<path d="M558,325 C566,322 570,330 566,336 C563,340 558,338 557,334 M566,318 L589,330 M590,333 L589,352 M562,340 L586,350" fill="none" stroke="#000" stroke-width="0.9"/>
<path d="M565,312 L592,327" stroke="#000" stroke-width="2.5"/>
<polygon points="598.0,308.0 591.1,311.1 590.5,313.0 592.2,314.0 599.5,311.6" fill="#fff" stroke="#000" stroke-width="1.1" stroke-linejoin="round" />
<path d="M596.6,308.5 L597.2,312.5 M595.4,309.0 L595.9,313.0 M594.1,309.5 L594.7,313.5 M592.8,310.0 L593.4,314.0 M591.6,310.5 L592.2,314.5 " stroke="#000" stroke-width="0.85" fill="none"/>
<ellipse cx="601.1" cy="308.9" rx="3.8" ry="4.2" transform="rotate(158.85390582059225 601.1 308.9)" fill="#fff" stroke="#000" stroke-width="1.6" />
<ellipse cx="601.7" cy="308.7" rx="1.9" ry="2.1" transform="rotate(158.85390582059225 601.7 308.7)" fill="#fff" stroke="#000" stroke-width="0.9" />
<path d="M600.6,307.5 L601.6,310.3" stroke="#000" stroke-width="0.8"/>
<polyline points="590.0,313.5 585.7,317.4" fill="none" stroke="#000" stroke-width="1.0" />
<polyline points="605.4,309.5 614.9,309.5" fill="none" stroke="#000" stroke-width="1.0" />
<polyline points="602.9,343.1 616.5,343.1" fill="none" stroke="#000" stroke-width="1.0" />
<polygon points="523.4,371.9 517.7,375.6 517.5,377.6 519.3,378.3 525.4,375.3" fill="#fff" stroke="#000" stroke-width="1.1" stroke-linejoin="round" />
<path d="M522.1,372.6 L523.3,376.5 M520.9,373.3 L522.1,377.2 M519.8,374.0 L521.0,377.8 M518.6,374.7 L519.8,378.5 " stroke="#000" stroke-width="0.85" fill="none"/>
<ellipse cx="526.6" cy="372.3" rx="3.8" ry="4.2" transform="rotate(149.78272604261568 526.6 372.3)" fill="#fff" stroke="#000" stroke-width="1.6" />
<ellipse cx="527.1" cy="372.0" rx="1.9" ry="2.1" transform="rotate(149.78272604261568 527.1 372.0)" fill="#fff" stroke="#000" stroke-width="0.9" />
<path d="M525.9,371.0 L527.3,373.6" stroke="#000" stroke-width="0.8"/>
<polyline points="531.0,372.1 543.0,372.1" fill="none" stroke="#000" stroke-width="1.0" />
<polyline points="517.5,378.0 477.7,402.3" fill="none" stroke="#000" stroke-width="1.0" />
<path d="M267,470.5 C258,473 251,478 252.5,484 C254,490 262,491.5 270,490.5 L296,487.5" fill="none" stroke="#000" stroke-width="3.0"/><path d="M267,470.5 C258,473 251,478 252.5,484 C254,490 262,491.5 270,490.5 L296,487.5" fill="none" stroke="#fff" stroke-width="1.0"/>
<polygon points="266.4,472.2 271.9,472.1 281.6,470.2 280.4,463.8 270.6,465.8 265.6,467.8" fill="#fff" stroke="#000" stroke-width="1.2" stroke-linejoin="round" />
<path d="M271.9,472.1 L270.6,465.8 M276.4,471.2 L275.1,464.9" stroke="#000" stroke-width="0.9"/>
<polyline points="280.5,468.0 291.0,467.0" fill="none" stroke="#000" stroke-width="1.0" />
<polyline points="272.9,455.2 272.9,464.0" fill="none" stroke="#000" stroke-width="1.0" />
<polygon points="295.7,481.9 313.0,475.5 319.5,478.5 319.5,483.8 306.2,494.3 295.7,489.5" fill="#fff" stroke="#000" stroke-width="1.3" stroke-linejoin="round" />
<polyline points="295.7,481.9 306.2,487.0 319.5,478.5" fill="none" stroke="#000" stroke-width="0.9" />
<polyline points="306.2,487.0 306.2,494.3" fill="none" stroke="#000" stroke-width="0.9" />
<polyline points="319.5,479.0 344.3,464.8" fill="none" stroke="#000" stroke-width="1.0" />
<path d="M241.4,491.4 L247.1,490.5 L266.2,502.9 L273.8,512.4 L273.8,550.5 L270,551.4 L239.5,533.3 L235.7,514.3 Z" fill="#fff" stroke="#000" stroke-width="1.6" stroke-linejoin="round" />
<path d="M247.1,490.5 L243,497 L240,512 L241,530 M266.2,502.9 L262,507 L270,514 L270,548 M243,497 L262,507" fill="none" stroke="#000" stroke-width="1.0"/>
<ellipse cx="240.5" cy="518.5" rx="2.0" ry="3.3" transform="rotate(0 240.5 518.5)" fill="#fff" stroke="#000" stroke-width="0.9" />
<polyline points="243.3,475.2 243.3,490.5" fill="none" stroke="#000" stroke-width="1.0" />
<polygon points="218.3,532.2 225.7,528.7 226.2,526.7 224.5,525.6 216.7,528.4" fill="#fff" stroke="#000" stroke-width="1.1" stroke-linejoin="round" />
<path d="M220.6,531.3 L219.8,527.1 M221.8,530.7 L221.1,526.6 M223.1,530.2 L222.3,526.1 M224.3,529.7 L223.6,525.5 M225.6,529.2 L224.8,525.0 " stroke="#000" stroke-width="0.85" fill="none"/>
<ellipse cx="214.8" cy="531.4" rx="4.3" ry="4.8" transform="rotate(-22.405408883365094 214.8 531.4)" fill="#fff" stroke="#000" stroke-width="1.6" />
<ellipse cx="214.2" cy="531.6" rx="2.2" ry="2.4" transform="rotate(-22.405408883365094 214.2 531.6)" fill="#fff" stroke="#000" stroke-width="0.9" />
<path d="M215.4,533.0 L214.2,529.8" stroke="#000" stroke-width="0.8"/>
<polyline points="226.0,526.5 240.5,518.0" fill="none" stroke="#000" stroke-width="1.0" />
<polyline points="213.8,491.4 213.8,526.5" fill="none" stroke="#000" stroke-width="1.0" />
<polygon points="330.6,489.3 339.1,484.9 339.5,482.9 337.7,481.9 328.9,485.5" fill="#fff" stroke="#000" stroke-width="1.1" stroke-linejoin="round" />
<path d="M332.9,488.2 L332.0,484.1 M334.1,487.7 L333.2,483.5 M335.3,487.1 L334.4,483.0 M336.6,486.5 L335.6,482.4 M337.8,486.0 L336.9,481.8 " stroke="#000" stroke-width="0.85" fill="none"/>
<ellipse cx="327.1" cy="488.6" rx="4.3" ry="4.8" transform="rotate(-24.687173729792843 327.1 488.6)" fill="#fff" stroke="#000" stroke-width="1.6" />
<ellipse cx="326.6" cy="488.9" rx="2.2" ry="2.4" transform="rotate(-24.687173729792843 326.6 488.9)" fill="#fff" stroke="#000" stroke-width="0.9" />
<path d="M327.8,490.1 L326.4,487.1" stroke="#000" stroke-width="0.8"/>
<polyline points="329.0,493.5 329.0,518.0" fill="none" stroke="#000" stroke-width="1.0" />
<polyline points="340.5,480.0 390.0,453.3" fill="none" stroke="#000" stroke-width="1.0" />
<ellipse cx="501.4" cy="101.5" rx="3.6" ry="2.2" transform="rotate(119.6 501.4 101.5)" fill="#fff" stroke="#000" stroke-width="1.2"/>
<polygon points="499.6,104.7 508.3,109.6 511.9,103.3 503.2,98.4" fill="#fff" stroke="none"/>
<path d="M499.6,104.7 L508.3,109.6 M511.9,103.3 L503.2,98.4" stroke="#000" stroke-width="1.2" fill="none"/>
<ellipse cx="510.1" cy="106.5" rx="3.6" ry="2.2" transform="rotate(119.6 510.1 106.5)" fill="#fff" stroke="#000" stroke-width="1.2"/>
<ellipse cx="510.1" cy="106.5" rx="16.5" ry="9.1" transform="rotate(119.6 510.1 106.5)" fill="#fff" stroke="#000" stroke-width="1.4"/>
<polygon points="501.9,120.8 521.9,132.2 538.3,103.5 518.2,92.1" fill="#fff" stroke="none"/>
<path d="M501.9,120.8 L521.9,132.2 M538.3,103.5 L518.2,92.1" stroke="#000" stroke-width="1.4" fill="none"/>
<path d="M501.1,120.2 L521.1,131.6 M499.8,118.5 L519.8,129.9 M499.0,116.2 L519.0,127.6 M498.7,113.4 L518.8,124.8 M499.1,110.3 L519.1,121.7 M499.9,107.0 L520.0,118.3 M501.3,103.6 L521.3,115.0 M503.2,100.4 L523.2,111.8 M505.3,97.5 L525.3,108.8 M507.7,95.0 L527.8,106.4 M510.3,93.1 L530.3,104.5 M512.8,91.9 L532.8,103.3 M515.2,91.4 L535.2,102.8 M517.3,91.7 L537.3,103.1 " stroke="#000" stroke-width="0.9" fill="none"/>
<ellipse cx="530.1" cy="117.8" rx="16.5" ry="9.1" transform="rotate(119.6 530.1 117.8)" fill="#fff" stroke="#000" stroke-width="1.4"/>
<ellipse cx="528.4" cy="116.8" rx="12.0" ry="6.6" transform="rotate(119.6 528.4 116.8)" fill="#fff" stroke="#000" stroke-width="1.2"/>
<polygon points="522.4,127.3 531.1,132.2 543.0,111.3 534.3,106.4" fill="#fff" stroke="none"/>
<path d="M522.4,127.3 L531.1,132.2 M543.0,111.3 L534.3,106.4" stroke="#000" stroke-width="1.2" fill="none"/>
<ellipse cx="537.1" cy="121.8" rx="12.0" ry="6.6" transform="rotate(119.6 537.1 121.8)" fill="#fff" stroke="#000" stroke-width="1.2"/>
<ellipse cx="537.1" cy="121.8" rx="21.5" ry="10.8" transform="rotate(119.6 537.1 121.8)" fill="#fff" stroke="#000" stroke-width="1.6"/>
<polygon points="526.4,140.5 577.8,169.6 599.0,132.2 547.7,103.1" fill="#fff" stroke="none"/>
<path d="M526.4,140.5 L577.8,169.6 M599.0,132.2 L547.7,103.1" stroke="#000" stroke-width="1.6" fill="none"/>
<path d="M525.8,140.1 L577.1,169.2 M524.7,138.9 L576.0,168.1 M523.8,137.4 L575.2,166.6 M523.3,135.6 L574.6,164.8 M523.0,133.6 L574.3,162.7 M522.9,131.2 L574.3,160.4 M523.2,128.7 L574.5,157.9 M523.8,126.1 L575.1,155.2 M524.6,123.3 L575.9,152.5 M525.7,120.6 L577.0,149.7 M527.0,117.8 L578.3,147.0 M528.5,115.1 L579.8,144.3 M530.2,112.6 L581.5,141.8 M532.0,110.3 L583.3,139.4 M533.9,108.1 L585.3,137.3 M535.9,106.3 L587.3,135.5 M538.0,104.8 L589.3,133.9 M540.0,103.6 L591.3,132.8 M541.9,102.8 L593.2,132.0 M543.7,102.4 L595.1,131.5 M545.5,102.4 L596.8,131.5 M547.0,102.7 L598.3,131.9 " stroke="#000" stroke-width="1.0" fill="none"/>
<ellipse cx="588.4" cy="150.9" rx="21.5" ry="10.8" transform="rotate(119.6 588.4 150.9)" fill="#fff" stroke="#000" stroke-width="1.6"/>
<ellipse cx="586.6" cy="149.9" rx="20.0" ry="10.0" transform="rotate(119.6 586.6 149.9)" fill="#fff" stroke="#000" stroke-width="1.2"/>
<polygon points="576.8,167.3 586.3,172.8 606.1,138.0 596.5,132.5" fill="#fff" stroke="none"/>
<path d="M576.8,167.3 L586.3,172.8 M606.1,138.0 L596.5,132.5" stroke="#000" stroke-width="1.2" fill="none"/>
<path d="M575.5,166.3 L585.1,171.8 M573.9,163.2 L583.5,168.6 M573.5,158.7 L583.1,164.2 M574.4,153.4 L584.0,158.9 M576.5,147.8 L586.1,153.2 M579.6,142.3 L589.2,147.8 M583.4,137.6 L593.0,143.1 M587.5,134.1 L597.1,139.6 M591.5,132.2 L601.1,137.6 M595.0,132.0 L604.6,137.4 " stroke="#000" stroke-width="0.9" fill="none"/>
<ellipse cx="596.2" cy="155.4" rx="20.0" ry="10.0" transform="rotate(119.6 596.2 155.4)" fill="#fff" stroke="#000" stroke-width="1.2"/>
<ellipse cx="594.5" cy="154.4" rx="35.0" ry="25.2" transform="rotate(119.6 594.5 154.4)" fill="#fff" stroke="#000" stroke-width="1.6"/>
<polygon points="577.2,184.8 589.4,191.7 623.9,130.8 611.8,123.9" fill="#fff" stroke="none"/>
<path d="M577.2,184.8 L589.4,191.7 M623.9,130.8 L611.8,123.9" stroke="#000" stroke-width="1.6" fill="none"/>
<path d="M576.3,184.3 L588.5,191.2 M574.7,183.2 L586.9,190.1 M573.2,181.8 L585.4,188.7 M571.9,180.3 L584.1,187.2 M570.7,178.6 L582.9,185.6 M569.6,176.8 L581.8,183.7 M568.7,174.9 L580.9,181.8 M567.9,172.8 L580.1,179.7 M567.3,170.6 L579.5,177.5 M566.9,168.3 L579.1,175.2 M566.6,165.9 L578.8,172.8 M566.6,163.5 L578.7,170.4 M566.6,160.9 L578.8,167.9 M566.9,158.4 L579.1,165.3 M567.3,155.8 L579.5,162.7 M567.9,153.2 L580.1,160.2 M568.7,150.7 L580.9,157.6 M569.6,148.1 L581.8,155.0 M570.7,145.6 L582.9,152.5 M571.9,143.1 L584.1,150.0 M573.3,140.7 L585.4,147.7 M574.7,138.4 L586.9,145.4 M576.4,136.2 L588.5,143.1 M578.1,134.1 L590.3,141.0 M579.9,132.2 L592.1,139.1 M581.8,130.3 L594.0,137.2 M583.8,128.6 L596.0,135.6 M585.9,127.1 L598.0,134.0 M588.0,125.7 L600.1,132.7 M590.1,124.6 L602.3,131.5 M592.3,123.6 L604.5,130.5 M594.5,122.8 L606.7,129.7 M596.7,122.1 L608.9,129.1 M598.9,121.7 L611.0,128.6 M601.0,121.5 L613.2,128.4 M603.1,121.5 L615.3,128.4 M605.2,121.7 L617.3,128.6 M607.2,122.1 L619.3,129.0 M609.1,122.7 L621.3,129.6 M610.9,123.5 L623.1,130.4 " stroke="#000" stroke-width="1.1" fill="none"/>
<ellipse cx="606.7" cy="161.3" rx="35.0" ry="25.2" transform="rotate(119.6 606.7 161.3)" fill="#fff" stroke="#000" stroke-width="1.6"/>
<ellipse cx="606.7" cy="161.3" rx="28" ry="20" transform="rotate(119.6 606.7 161.3)" fill="none" stroke="#000" stroke-width="1.0"/>
<ellipse cx="606.7" cy="161.3" rx="20" ry="14.5" transform="rotate(119.6 606.7 161.3)" fill="#fff" stroke="#000" stroke-width="1.5"/>
<ellipse cx="606.7" cy="161.3" rx="16" ry="11.5" transform="rotate(119.6 606.7 161.3)" fill="#fff" stroke="#000" stroke-width="1.0"/>
<path d="M602.2,169.1 L599.2,174.3 M604.7,169.8 L603.4,175.4 M607.5,169.1 L608.1,174.3 M610.2,167.2 L612.5,171.2 M612.3,164.5 L616.1,166.6 M613.6,161.3 L618.2,161.2 M613.8,158.0 L618.5,155.8 M612.9,155.3 L617.1,151.3 M611.1,153.5 L614.1,148.2 M608.6,152.8 L609.9,147.2 M605.8,153.5 L605.3,148.3 M603.2,155.3 L600.8,151.4 M601.0,158.1 L597.3,156.0 M599.8,161.3 L595.1,161.4 M599.5,164.6 L594.8,166.7 M600.4,167.3 L596.2,171.3 " stroke="#000" stroke-width="1.3" fill="none"/>
<ellipse cx="606.7" cy="161.3" rx="7" ry="5" transform="rotate(119.6 606.7 161.3)" fill="#fff" stroke="#000" stroke-width="1.1"/>
<ellipse cx="606.7" cy="161.3" rx="3.8" ry="2.3" transform="rotate(119.6 606.7 161.3)" fill="#fff" stroke="#000" stroke-width="1.3"/>
<polygon points="604.8,164.6 635.2,181.9 639.0,175.3 608.5,158.0" fill="#fff" stroke="none"/>
<path d="M604.8,164.6 L635.2,181.9 M639.0,175.3 L608.5,158.0" stroke="#000" stroke-width="1.3" fill="none"/>
<ellipse cx="637.1" cy="178.6" rx="3.8" ry="2.3" transform="rotate(119.6 637.1 178.6)" fill="#fff" stroke="#000" stroke-width="1.3"/>
<path d="M623.9,175.5 L627.7,168.9 M625.4,176.3 L629.2,169.7 M626.9,177.1 L630.6,170.5 M628.4,178.0 L632.1,171.4 M629.8,178.8 L633.6,172.2 M631.3,179.7 L635.1,173.1 M632.8,180.5 L636.6,173.9 M634.3,181.3 L638.0,174.7 " stroke="#000" stroke-width="0.9" fill="none"/>
<polyline points="494.7,59.5 494.7,51.2 574.7,51.2 722.2,136.0 722.2,183.0" fill="none" stroke="#000" stroke-width="2.1" />
<polyline points="494.7,72.5 494.7,84.0" fill="none" stroke="#000" stroke-width="1.1" />
<polyline points="566.0,51.2 566.0,77.3" fill="none" stroke="#000" stroke-width="2.1" />
<polyline points="558.9,107.4 558.9,77.3 574.7,77.3 612.0,98.9 612.0,104.0" fill="none" stroke="#000" stroke-width="2.1" />
<polyline points="612.0,118.6 612.0,128.9" fill="none" stroke="#000" stroke-width="1.1" />
<polyline points="649.8,82.5 649.8,93.3" fill="none" stroke="#000" stroke-width="2.1" />
<polyline points="710.5,54.5 966.5,54.5 966.5,258.5" fill="none" stroke="#000" stroke-width="2.1" />
<polyline points="710.5,54.5 710.5,124.6" fill="none" stroke="#000" stroke-width="2.1" />
<polyline points="710.5,135.2 710.5,149.7" fill="none" stroke="#000" stroke-width="2.1" />
<polyline points="667.3,131.4 667.3,125.3 717.6,153.5" fill="none" stroke="#000" stroke-width="2.1" />
<polyline points="700.1,145.1 700.1,177.5" fill="none" stroke="#000" stroke-width="2.1" />
<polyline points="700.1,191.0 700.1,199.7" fill="none" stroke="#000" stroke-width="1.1" />
<polyline points="655.6,174.0 655.6,146.7 676.5,158.1 676.5,186.0" fill="none" stroke="#000" stroke-width="1.1" />
<polyline points="667.3,145.1 667.3,152.0" fill="none" stroke="#000" stroke-width="1.1" />
<polyline points="728.3,184.0 728.3,160.4 748.9,171.4 748.9,204.0" fill="none" stroke="#000" stroke-width="2.1" />
<polyline points="724.6,197.0 724.6,216.0" fill="none" stroke="#000" stroke-width="1.1" />
<polyline points="749.8,219.0 749.8,232.3" fill="none" stroke="#000" stroke-width="1.1" />
<polyline points="789.2,54.5 789.2,67.0" fill="none" stroke="#000" stroke-width="2.1" />
<polyline points="789.2,84.2 789.2,99.4" fill="none" stroke="#000" stroke-width="1.1" />
<polyline points="757.5,114.5 765.3,118.3" fill="none" stroke="#000" stroke-width="1.0" />
<polyline points="470.0,83.5 484.0,91.0" fill="none" stroke="#000" stroke-width="1.0" />
<ellipse cx="485.5" cy="90.5" rx="10.5" ry="6.5" transform="rotate(119.6 485.5 90.5)" fill="#fff" stroke="#000" stroke-width="1.6"/>
<polygon points="480.3,99.6 486.8,103.3 497.2,85.1 490.7,81.4" fill="#fff" stroke="none"/>
<path d="M480.3,99.6 L486.8,103.3 M497.2,85.1 L490.7,81.4" stroke="#000" stroke-width="1.6" fill="none"/>
<ellipse cx="492.0" cy="94.2" rx="10.5" ry="6.5" transform="rotate(119.6 492.0 94.2)" fill="#fff" stroke="#000" stroke-width="1.6"/>
<ellipse cx="492.0" cy="94.2" rx="7.5" ry="4.6" transform="rotate(119.6 492.0 94.2)" fill="none" stroke="#000" stroke-width="1.0"/>
<ellipse cx="492.0" cy="94.2" rx="4.8" ry="3.1" transform="rotate(119.6 492.0 94.2)" fill="#fff" stroke="#000" stroke-width="1.4"/>
<path d="M660,178 C650,174 641,184 641,194 C641,204 648,210 656,208 C662,206 668,199 667,189" fill="none" stroke="#000" stroke-width="5.2"/>
<path d="M660,178 C650,174 641,184 641,194 C641,204 648,210 656,208 C662,206 668,199 667,189" fill="none" stroke="#fff" stroke-width="2.2"/>
<path d="M657,176 l5,-1 l2,5 M664,186 l5,1 l-1,5" fill="none" stroke="#000" stroke-width="1.4"/>
<path d="M652.4,204.8 L651.7,208.8 M647.1,200.7 L644.0,203.3 M645.0,193.0 L641.0,193.0 M647.1,185.3 L644.0,182.7 M652.4,181.2 L651.7,177.2 M658.5,182.6 L660.5,179.1 M662.5,188.9 L666.2,187.5 M662.5,197.1 L666.2,198.5 " stroke="#000" stroke-width="1.2"/>
<ellipse cx="675.0" cy="203.5" rx="11.5" ry="15.5" transform="rotate(25 675.0 203.5)" fill="#fff" stroke="#000" stroke-width="1.6" />
<ellipse cx="676.0" cy="203.0" rx="6.0" ry="9.0" transform="rotate(25 676.0 203.0)" fill="#fff" stroke="#000" stroke-width="1.2" />
<ellipse cx="702.0" cy="217.0" rx="12.5" ry="16.5" transform="rotate(25 702.0 217.0)" fill="#fff" stroke="#000" stroke-width="1.7" />
<ellipse cx="703.0" cy="216.5" rx="10.0" ry="14.0" transform="rotate(25 703.0 216.5)" fill="#fff" stroke="#000" stroke-width="1.0" stroke-dasharray="1.2,1.2"/>
<ellipse cx="703.5" cy="216.5" rx="8.5" ry="12.5" transform="rotate(25 703.5 216.5)" fill="#fff" stroke="#000" stroke-width="1.3" />
<ellipse cx="724.5" cy="233.0" rx="12.0" ry="16.0" transform="rotate(25 724.5 233.0)" fill="#fff" stroke="#000" stroke-width="1.5" />
<polygon points="716,219 725,214 740,244 731,249" fill="#fff"/>
<path d="M716.5,219 L723,215.5 M726,248 L733,244.5" stroke="#000" stroke-width="1.4"/>
<ellipse cx="729.5" cy="231.0" rx="12.0" ry="16.0" transform="rotate(25 729.5 231.0)" fill="#fff" stroke="#000" stroke-width="1.5" />
<ellipse cx="730.0" cy="231.0" rx="7.0" ry="9.5" transform="rotate(25 730.0 231.0)" fill="#fff" stroke="#000" stroke-width="1.0" />
<ellipse cx="730.5" cy="231.0" rx="3.5" ry="5.0" transform="rotate(25 730.5 231.0)" fill="#fff" stroke="#000" stroke-width="1.0" />
<g transform="rotate(25 710.9 259.7)"><rect x="700" y="248" width="22" height="23" fill="#000"/><rect x="702" y="250" width="18" height="4" fill="#fff"/><circle cx="709" cy="262" r="4" fill="#fff"/><rect x="714" y="259" width="5" height="5" fill="#fff"/></g>
<ellipse cx="752.0" cy="245.5" rx="11.5" ry="14.5" transform="rotate(25 752.0 245.5)" fill="#fff" stroke="#000" stroke-width="1.8" />
<ellipse cx="753.0" cy="245.5" rx="8.5" ry="11.0" transform="rotate(25 753.0 245.5)" fill="#fff" stroke="#000" stroke-width="1.0" />
<ellipse cx="754.0" cy="245.5" rx="5.5" ry="7.5" transform="rotate(25 754.0 245.5)" fill="#fff" stroke="#000" stroke-width="1.3" />
<polyline points="760.0,251.0 768.0,255.5" fill="none" stroke="#000" stroke-width="1.0" />
<path d="M766,204.7 L782.1,210.9 L779.6,218.3 L767.2,213.4 Z" fill="url(#dots)" stroke="#000" stroke-width="1.8"/>
<path d="M767.2,213.4 L756.1,230.7 M779.6,218.3 L768.2,233.2" fill="none" stroke="#000" stroke-width="1.1"/>
<path d="M756.1,230.7 L768.2,233.2" fill="none" stroke="#000" stroke-width="1.1" stroke-dasharray="1.5,1.5"/>
<path d="M764,217 L775,221" fill="none" stroke="#000" stroke-width="0.9"/>
<ellipse cx="785.5" cy="130.5" rx="24.5" ry="32.5" transform="rotate(20 785.5 130.5)" fill="#fff" stroke="#000" stroke-width="2.0" />
<ellipse cx="786.0" cy="131.0" rx="21.5" ry="29.5" transform="rotate(20 786.0 131.0)" fill="none" stroke="#000" stroke-width="1.0" />
<ellipse cx="787.0" cy="132.0" rx="16.5" ry="24.5" transform="rotate(20 787.0 132.0)" fill="none" stroke="#000" stroke-width="1.8" />
<ellipse cx="787.5" cy="132.5" rx="14.0" ry="22.0" transform="rotate(20 787.5 132.5)" fill="#fff" stroke="#000" stroke-width="1.0" />
<path d="M779.4,107 L792,99.5 L803.4,108 L790,118.3 Z M779.4,107 L780,110 L790,121 L790,118.3 M790,121 L803.4,110 L803.4,108" fill="#fff" stroke="#000" stroke-width="1.2"/>
<path d="M755.9,142.5 l6,-2 l2.5,5 l-6,2 z" fill="#fff" stroke="#000" stroke-width="1.1"/>
<path d="M793,153 L801,145 M794,155 L802,147" stroke="#000" stroke-width="1.2"/>
<polyline points="782.0,128.6 808.6,144.0" fill="none" stroke="#000" stroke-width="1.0" />
<polygon points="809.8,142.8 817.1,134.0 831.9,123.6 857.0,113.3 862.9,111.1 868.8,113.3 877.7,120.7 889.5,136.9 898.3,147.2 917.5,169.4 938.9,194.5 939.7,206.3 936.7,218.1 913.1,232.9 895.4,241.0 891.0,239.5 848.1,221.0 821.6,212.2 809.8,209.2 806.1,203.3 803.1,182.7 803.9,162.0" fill="#fff" stroke="#000" stroke-width="1.9" stroke-linejoin="round" />
<path d="M814.2,139.9 C828,128 845,119 858.5,116.2 L871.8,117.7 M812,146 C828,134 845,125 860,122 M874.7,123.6 C880,130 884,135 886.5,138.4
M891,225.5 L938.9,203.3 M891,225.5 L891,239.5 M834.9,169.4 C842,185 850,197 857,203.3 C866,210 876,213 886.5,215.1
M803.9,173.8 L833.4,187.1 M806,200 L830,209 M858,170 C870,175 880,185 882,200 C883,210 878,214 870,212" fill="none" stroke="#000" stroke-width="1.0"/>
<ellipse cx="860.0" cy="139.1" rx="15.5" ry="8.9" transform="rotate(-8 860.0 139.1)" fill="#fff" stroke="#000" stroke-width="1.3" />
<ellipse cx="860.5" cy="140.5" rx="10.0" ry="5.5" transform="rotate(-8 860.5 140.5)" fill="#fff" stroke="#000" stroke-width="1.0" />
<ellipse cx="860.8" cy="141.5" rx="6.0" ry="3.4" transform="rotate(-8 860.8 141.5)" fill="#fff" stroke="#000" stroke-width="1.1" />
<path d="M820,152 L830,147 L843.7,158 L841,168 L826,164 L820,160 Z M830,147 L826,164" fill="#fff" stroke="#000" stroke-width="1.2"/>
<circle cx="823.5" cy="155.5" r="2" fill="#fff" stroke="#000" stroke-width="1"/>
<path d="M849.6,164 L869,157 L871.8,163 L852,170.9 Z M851,179 L866,173.8 L868.8,179 L853,184.1 Z M873.2,154 L886,147.2 L889.5,153 L876,160.5 Z M879.1,163 L895,154.6 L898.3,160 L882,172.3 Z" fill="#fff" stroke="#000" stroke-width="1.2"/>
<path d="M852,167 l17,-6 M875,157 l12,-6" stroke="#000" stroke-width="1.6"/>
<ellipse cx="834.9" cy="198.2" rx="9.0" ry="8.5" transform="rotate(-20 834.9 198.2)" fill="#fff" stroke="#000" stroke-width="1.3" />
<ellipse cx="835.5" cy="198.5" rx="6.0" ry="5.5" transform="rotate(-20 835.5 198.5)" fill="#fff" stroke="#000" stroke-width="1.1" />
<ellipse cx="836.0" cy="199.0" rx="3.5" ry="3.3" transform="rotate(-20 836.0 199.0)" fill="#fff" stroke="#000" stroke-width="1.0" />
<ellipse cx="871.8" cy="196.0" rx="8.5" ry="8.5" transform="rotate(-20 871.8 196.0)" fill="#fff" stroke="#000" stroke-width="1.3" />
<ellipse cx="872.5" cy="197.0" rx="5.0" ry="5.0" transform="rotate(-20 872.5 197.0)" fill="#fff" stroke="#000" stroke-width="1.0" />
<path d="M907.2,208 L920,202.5 L922,205.5 L909,210.7 Z M907.2,208 L912,204" fill="#fff" stroke="#000" stroke-width="1.0"/>
<path d="M820,212.2 L821,218 L829,218 L829,213 M833.4,213.7 L834,224 L846.7,225.5 L846.7,218" fill="#fff" stroke="#000" stroke-width="1.0"/>
<path d="M895.4,119.2 L902.8,128.8 L862.9,187.1 L868.8,196" fill="none" stroke="#000" stroke-width="1.0"/>
<polyline points="941.3,206.6 966.5,206.6" fill="none" stroke="#000" stroke-width="2.1" />
<ellipse cx="850.0" cy="75.0" rx="9.0" ry="5.5" transform="rotate(0 850.0 75.0)" fill="#fff" stroke="#000" stroke-width="1.3" />
<rect x="841" y="69" width="18" height="6" fill="#fff"/>
<polyline points="841.0,69.0 841.0,75.0" fill="none" stroke="#000" stroke-width="1.3" />
<polyline points="859.0,69.0 859.0,75.0" fill="none" stroke="#000" stroke-width="1.3" />
<ellipse cx="850.0" cy="69.0" rx="9.0" ry="5.5" transform="rotate(0 850.0 69.0)" fill="#fff" stroke="#000" stroke-width="1.4" />
<circle cx="849" cy="69" r="1.2" fill="#000"/>
<ellipse cx="862.5" cy="82.0" rx="6.0" ry="3.5" transform="rotate(-30 862.5 82.0)" fill="#fff" stroke="#000" stroke-width="1.3" />
<ellipse cx="863.1" cy="84.2" rx="6.0" ry="3.5" transform="rotate(-30 863.1 84.2)" fill="#fff" stroke="#000" stroke-width="1.3" />
<ellipse cx="863.7" cy="86.4" rx="6.0" ry="3.5" transform="rotate(-30 863.7 86.4)" fill="#fff" stroke="#000" stroke-width="1.3" />
<ellipse cx="864.3" cy="88.6" rx="6.0" ry="3.5" transform="rotate(-30 864.3 88.6)" fill="#fff" stroke="#000" stroke-width="1.3" />
<ellipse cx="874.3" cy="98.2" rx="3.2" ry="2.4" transform="rotate(0 874.3 98.2)" fill="#fff" stroke="#000" stroke-width="1.2" />
<path d="M879,106 L884,102 L895,115 L890,119.5 Z" fill="#fff" stroke="#000" stroke-width="1.4"/>
<path d="M881,105 l4.5,-3 M883,107.5 l4.5,-3 M885,110 l4.5,-3 M887,112.5 l4.5,-3" stroke="#000" stroke-width="1.1"/>
<ellipse cx="881.0" cy="104.0" rx="3.0" ry="2.5" transform="rotate(40 881.0 104.0)" fill="#fff" stroke="#000" stroke-width="1.2" />
<polyline points="859.0,70.4 924.1,70.4 924.1,114.4 893.0,114.4" fill="none" stroke="#000" stroke-width="2.1" />
<polyline points="869.0,88.2 924.1,88.2" fill="none" stroke="#000" stroke-width="2.1" />
<polyline points="924.1,84.4 931.0,84.4" fill="none" stroke="#000" stroke-width="2.1" />
<polyline points="957.7,84.4 966.5,84.4" fill="none" stroke="#000" stroke-width="2.1" />
<polyline points="966.5,118.0 975.0,118.0" fill="none" stroke="#000" stroke-width="2.1" />
<polyline points="878.5,99.0 900.5,99.0" fill="none" stroke="#000" stroke-width="1.0" />
<polyline points="919.3,99.0 924.1,99.0" fill="none" stroke="#000" stroke-width="2.1" />
<polygon points="933.7,157.1 906.1,141.9 904.2,142.8 904.4,144.9 931.5,160.9" fill="#fff" stroke="#000" stroke-width="1.1" stroke-linejoin="round" />
<path d="M931.6,155.9 L928.6,159.3 M930.4,155.3 L927.5,158.6 M929.2,154.6 L926.3,157.9 M928.1,153.9 L925.1,157.3 M926.9,153.2 L924.0,156.6 M925.7,152.6 L922.8,155.9 M924.6,151.9 L921.6,155.3 M923.4,151.2 L920.4,154.6 M922.2,150.6 L919.3,153.9 M921.0,149.9 L918.1,153.2 M919.9,149.2 L916.9,152.6 M918.7,148.6 L915.7,151.9 M917.5,147.9 L914.6,151.2 M916.4,147.2 L913.4,150.6 M915.2,146.6 L912.2,149.9 M914.0,145.9 L911.1,149.2 M912.8,145.2 L909.9,148.6 M911.7,144.5 L908.7,147.9 M910.5,143.9 L907.5,147.2 M909.3,143.2 L906.4,146.6 M908.1,142.5 L905.2,145.9 M907.0,141.9 L904.0,145.2 " stroke="#000" stroke-width="0.85" fill="none"/>
<ellipse cx="935.2" cy="160.5" rx="4.5" ry="5.0" transform="rotate(-150.27502689527716 935.2 160.5)" fill="#fff" stroke="#000" stroke-width="1.6" />
<ellipse cx="935.7" cy="160.8" rx="2.2" ry="2.5" transform="rotate(-150.27502689527716 935.7 160.8)" fill="#fff" stroke="#000" stroke-width="0.9" />
<path d="M936.1,159.0 L934.3,162.0" stroke="#000" stroke-width="0.8"/>
<polyline points="935.0,141.0 935.0,158.0" fill="none" stroke="#000" stroke-width="1.0" />
<polygon points="932.2,244.5 932.1,235.3 930.5,234.0 928.8,235.1 928.0,244.3" fill="#fff" stroke="#000" stroke-width="1.1" stroke-linejoin="round" />
<path d="M932.2,243.0 L928.1,242.0 M932.3,241.7 L928.2,240.6 M932.3,240.3 L928.2,239.3 M932.4,239.0 L928.3,237.9 M932.4,237.6 L928.3,236.6 M932.5,236.3 L928.4,235.2 " stroke="#000" stroke-width="0.85" fill="none"/>
<ellipse cx="930.0" cy="247.0" rx="3.9" ry="4.3" transform="rotate(-87.7974018382342 930.0 247.0)" fill="#fff" stroke="#000" stroke-width="1.6" />
<ellipse cx="930.0" cy="247.6" rx="1.9" ry="2.1" transform="rotate(-87.7974018382342 930.0 247.6)" fill="#fff" stroke="#000" stroke-width="0.9" />
<path d="M931.5,247.1 L928.5,246.9" stroke="#000" stroke-width="0.8"/>
<polyline points="935.0,238.6 938.5,238.6" fill="none" stroke="#000" stroke-width="1.2" />
<polyline points="956.0,238.6 966.5,238.6" fill="none" stroke="#000" stroke-width="2.1" />
<path d="M879.5,251 L879.5,259.5 A8,3.8 0 0 0 895.5,259.5 L895.5,251" fill="#fff" stroke="#000" stroke-width="1.3"/>
<ellipse cx="887.5" cy="251.0" rx="8.0" ry="3.8" transform="rotate(0 887.5 251.0)" fill="#fff" stroke="#000" stroke-width="1.3" />
<ellipse cx="887.5" cy="251.0" rx="4.5" ry="2.0" transform="rotate(0 887.5 251.0)" fill="#fff" stroke="#000" stroke-width="1.0" />
<polyline points="896.3,257.9 936.0,257.9" fill="none" stroke="#000" stroke-width="1.0" />
<polyline points="956.0,257.9 966.5,257.9" fill="none" stroke="#000" stroke-width="2.1" />
<polyline points="830.3,222.3 800.0,239.0 807.2,242.2" fill="none" stroke="#000" stroke-width="1.0" />
<path d="M806,248 C805,241 810,237 816,238 L826,241 C832,243 835,249 834,256 C833,262 828,265 822,264 L812,262 C808,259 806,254 806,248 Z" fill="#fff" stroke="#000" stroke-width="1.5"/>
<path d="M824.0,249.2 L826.8,242.7 M825.0,250.0 L830.4,244.8 M825.7,251.2 L832.9,248.2 M826.0,252.7 L834.0,252.2 M825.9,254.2 L833.5,256.4 M825.3,255.6 L831.4,260.1 M824.4,256.5 L828.2,262.7 M823.3,257.0 L824.1,263.9 M822.2,256.8 L820.0,263.6 " stroke="#000" stroke-width="2.2"/>
<path d="M806,248 C806,242 811,239 815,241 C818,243 818,250 815,254 C812,257 807,254 806,248 Z" fill="#fff" stroke="#000" stroke-width="1.2"/>
<path d="M836,256 C838,253 843,252 847,254 L850,258 C852,262 851,268 848,271 C845,274 840,274 837,271 L835,266 C834,262 834,259 836,256 Z" fill="#fff" stroke="#000" stroke-width="1.5"/>
<ellipse cx="844.5" cy="264.0" rx="4.2" ry="5.2" transform="rotate(-15 844.5 264.0)" fill="#fff" stroke="#000" stroke-width="1.2" />
<ellipse cx="845.0" cy="264.0" rx="2.2" ry="3.0" transform="rotate(-15 845.0 264.0)" fill="#fff" stroke="#000" stroke-width="1.0" />
<path d="M838,256 L838,270" stroke="#000" stroke-width="0.9"/>
<polyline points="842.0,245.0 842.0,256.0" fill="none" stroke="#000" stroke-width="1.0" />
<polyline points="817.7,264.0 817.7,300.9" fill="none" stroke="#000" stroke-width="1.1" />
<polyline points="817.7,292.5 850.2,292.5" fill="none" stroke="#000" stroke-width="1.1" />
<path d="M852.3,290 L852.3,296 A35.6,17.5 0 0 0 923.5,296 L923.5,290" fill="#fff" stroke="#000" stroke-width="1.6"/>
<ellipse cx="887.9" cy="289.5" rx="35.6" ry="19.5" transform="rotate(0 887.9 289.5)" fill="#fff" stroke="#000" stroke-width="1.6" />
<path d="M922.9,289.5 L912.9,289.5 M922.7,291.4 L912.8,290.8 M922.7,291.4 L922.7,296.4 M922.2,293.2 L912.4,292.1 M922.2,293.2 L922.2,298.2 M921.4,295.0 L911.8,293.4 M921.4,295.0 L921.4,300.0 M920.2,296.8 L911.0,294.7 M920.2,296.8 L920.2,301.8 M918.8,298.5 L909.9,295.9 M918.8,298.5 L918.8,303.5 M917.0,300.1 L908.7,297.0 M917.0,300.1 L917.0,305.1 M915.0,301.6 L907.2,298.1 M915.0,301.6 L915.0,306.6 M912.6,302.9 L905.6,299.0 M912.6,302.9 L912.6,307.9 M910.1,304.2 L903.8,299.9 M910.1,304.2 L910.1,309.2 M907.3,305.3 L901.8,300.7 M907.3,305.3 L907.3,310.3 M904.4,306.3 L899.7,301.4 M904.4,306.3 L904.4,311.3 M901.3,307.1 L897.5,302.0 M901.3,307.1 L901.3,312.1 M898.1,307.7 L895.2,302.4 M898.1,307.7 L898.1,312.7 M894.7,308.1 L892.8,302.7 M894.7,308.1 L894.7,313.1 M891.3,308.4 L890.4,302.9 M891.3,308.4 L891.3,313.4 M887.9,308.5 L887.9,303.0 M887.9,308.5 L887.9,313.5 M884.5,308.4 L885.4,302.9 M884.5,308.4 L884.5,313.4 M881.1,308.1 L883.0,302.7 M881.1,308.1 L881.1,313.1 M877.7,307.7 L880.6,302.4 M877.7,307.7 L877.7,312.7 M874.5,307.1 L878.3,302.0 M874.5,307.1 L874.5,312.1 M871.4,306.3 L876.1,301.4 M871.4,306.3 L871.4,311.3 M868.5,305.3 L874.0,300.7 M868.5,305.3 L868.5,310.3 M865.7,304.2 L872.0,299.9 M865.7,304.2 L865.7,309.2 M863.2,302.9 L870.2,299.0 M863.2,302.9 L863.2,307.9 M860.8,301.6 L868.6,298.1 M860.8,301.6 L860.8,306.6 M858.8,300.1 L867.1,297.0 M858.8,300.1 L858.8,305.1 M857.0,298.5 L865.9,295.9 M857.0,298.5 L857.0,303.5 M855.6,296.8 L864.8,294.7 M855.6,296.8 L855.6,301.8 M854.4,295.0 L864.0,293.4 M854.4,295.0 L854.4,300.0 M853.6,293.2 L863.4,292.1 M853.6,293.2 L853.6,298.2 M853.1,291.4 L863.0,290.8 M853.1,291.4 L853.1,296.4 M852.9,289.5 L862.9,289.5 M852.9,289.5 L852.9,294.5 M853.1,287.6 L863.0,288.2 M853.6,285.8 L863.4,286.9 M854.4,284.0 L864.0,285.6 M855.6,282.2 L864.8,284.3 M857.0,280.5 L865.9,283.1 M858.8,278.9 L867.1,282.0 M860.8,277.4 L868.6,280.9 M863.2,276.1 L870.2,280.0 M865.7,274.8 L872.0,279.1 M868.5,273.7 L874.0,278.3 M871.4,272.7 L876.1,277.6 M874.5,271.9 L878.3,277.0 M877.7,271.3 L880.6,276.6 M881.1,270.9 L883.0,276.3 M884.5,270.6 L885.4,276.1 M887.9,270.5 L887.9,276.0 M891.3,270.6 L890.4,276.1 M894.7,270.9 L892.8,276.3 M898.1,271.3 L895.2,276.6 M901.3,271.9 L897.5,277.0 M904.4,272.7 L899.7,277.6 M907.3,273.7 L901.8,278.3 M910.1,274.8 L903.8,279.1 M912.6,276.1 L905.6,280.0 M915.0,277.4 L907.2,280.9 M917.0,278.9 L908.7,282.0 M918.8,280.5 L909.9,283.1 M920.2,282.2 L911.0,284.3 M921.4,284.0 L911.8,285.6 M922.2,285.8 L912.4,286.9 M922.7,287.6 L912.8,288.2 " stroke="#000" stroke-width="0.9"/>
<ellipse cx="887.9" cy="288.5" rx="24.0" ry="13.5" transform="rotate(0 887.9 288.5)" fill="#fff" stroke="#000" stroke-width="1.2" />
<ellipse cx="887.9" cy="287.5" rx="11.0" ry="6.2" transform="rotate(0 887.9 287.5)" fill="#fff" stroke="#000" stroke-width="1.2" />
<ellipse cx="887.9" cy="287.5" rx="6.0" ry="3.3" transform="rotate(0 887.9 287.5)" fill="#fff" stroke="#000" stroke-width="1.0" />
<path d="M868,280 L878,284 M898,284 L908,280 M868,296 L878,291 M898,291 L908,296 M887.9,275 L887.9,281" stroke="#000" stroke-width="1.3"/>
<ellipse cx="888.0" cy="313.0" rx="6.0" ry="2.0" transform="rotate(0 888.0 313.0)" fill="#888" stroke="#000" stroke-width="0.8" />
<polyline points="889.0,316.0 889.0,330.0" fill="none" stroke="#000" stroke-width="1.0" />
<path d="M871,331 L871,341.5 A17.9,8.5 0 0 0 906.8,341.5 L906.8,331" fill="#fff" stroke="#000" stroke-width="1.5"/>
<ellipse cx="889.0" cy="331.0" rx="17.9" ry="8.5" transform="rotate(0 889.0 331.0)" fill="#fff" stroke="#000" stroke-width="1.5" />
<ellipse cx="889.0" cy="331.0" rx="11.5" ry="5.2" transform="rotate(0 889.0 331.0)" fill="#fff" stroke="#000" stroke-width="1.1" />
<path d="M902.2,331.0 h2.6 M900.8,334.0 h2.6 M902.1,338.0 v4 M896.7,336.3 h2.6 M898.0,340.3 v4 M890.9,337.6 h2.6 M892.2,341.6 v4 M884.5,337.6 h2.6 M885.8,341.6 v4 M878.7,336.3 h2.6 M880.0,340.3 v4 M874.6,334.0 h2.6 M875.9,338.0 v4 M873.2,331.0 h2.6 M874.6,328.0 h2.6 M878.7,325.7 h2.6 M884.5,324.4 h2.6 M890.9,324.4 h2.6 M896.7,325.7 h2.6 M900.8,328.0 h2.6 " stroke="#000" stroke-width="1.6"/>
<polyline points="889.0,322.0 889.0,336.0" fill="none" stroke="#000" stroke-width="1.0" />
<polyline points="908.8,337.0 926.7,337.0" fill="none" stroke="#000" stroke-width="1.0" />
<path d="M867,366 L867,372 A22,10 0 0 0 911,372 L911,366" fill="#fff" stroke="#000" stroke-width="1.8"/>
<ellipse cx="889.0" cy="366.0" rx="22.0" ry="10.5" transform="rotate(0 889.0 366.0)" fill="#fff" stroke="#000" stroke-width="1.8" />
<ellipse cx="889.0" cy="366.0" rx="18.0" ry="8.3" transform="rotate(0 889.0 366.0)" fill="#fff" stroke="#000" stroke-width="1.0" />
<ellipse cx="889.0" cy="367.0" rx="14.5" ry="6.7" transform="rotate(0 889.0 367.0)" fill="#fff" stroke="#000" stroke-width="1.0" />
<ellipse cx="889.0" cy="368.0" rx="11.5" ry="5.3" transform="rotate(0 889.0 368.0)" fill="#fff" stroke="#000" stroke-width="1.2" />
<polyline points="913.0,369.0 926.7,369.0" fill="none" stroke="#000" stroke-width="1.0" />
<path d="M905,395 C900,391 895,390 889,390 C877,390 869,395 869,401 C869,408 877,412 889,412 C895,412 899,411 901,409" fill="none" stroke="#000" stroke-width="3"/>
<path d="M905,395 C900,391 895,390 889,390 C877,390 869,395 869,401 C869,408 877,412 889,412 C895,412 899,411 901,409" fill="none" stroke="#fff" stroke-width="1.1"/>
<path d="M904,395 L911,399 L910,405 L902,403 Z M893,409 L901,407 L900,412 L893,413 Z" fill="#fff" stroke="#000" stroke-width="1.1"/>
<circle cx="906" cy="401" r="1.3" fill="#000"/><circle cx="896" cy="410" r="1.2" fill="#000"/>
<polyline points="913.0,401.2 924.6,401.2" fill="none" stroke="#000" stroke-width="1.0" />
<path d="M867,428 L867,439 A22.3,11 0 0 0 911.6,439 L911.6,428" fill="#fff" stroke="#000" stroke-width="1.8"/>
<ellipse cx="889.3" cy="428.0" rx="22.3" ry="11.0" transform="rotate(0 889.3 428.0)" fill="#fff" stroke="#000" stroke-width="1.8" />
<ellipse cx="889.3" cy="428.0" rx="17.0" ry="8.3" transform="rotate(0 889.3 428.0)" fill="#fff" stroke="#000" stroke-width="1.0" />
<ellipse cx="889.3" cy="428.5" rx="11.0" ry="5.5" transform="rotate(0 889.3 428.5)" fill="#fff" stroke="#000" stroke-width="1.3" />
<ellipse cx="889.3" cy="429.0" rx="6.5" ry="3.3" transform="rotate(0 889.3 429.0)" fill="#fff" stroke="#000" stroke-width="1.0" />
<polyline points="913.0,434.2 924.6,434.2" fill="none" stroke="#000" stroke-width="1.0" />
<polyline points="889.4,453.8 889.4,495.7" fill="none" stroke="#000" stroke-width="1.0" />
<path d="M855,486 A34,15 0 0 0 923,486" fill="none" stroke="#000" stroke-width="1.2"/>
<ellipse cx="889.0" cy="476.5" rx="39.0" ry="18.5" transform="rotate(0 889.0 476.5)" fill="none" stroke="#000" stroke-width="1.5" />
<ellipse cx="889.0" cy="480.0" rx="38.0" ry="18.5" transform="rotate(0 889.0 480.0)" fill="none" stroke="#000" stroke-width="1.0" />
<path d="M853,480 l-3,3 l4,2 M925,480 l3,3 l-4,2 M862,463 l-2,-3 M916,463 l2,-3 M887,458 l2,-3" stroke="#000" stroke-width="1.2" fill="none"/>
<path d="M858,485 A33,10 0 0 1 920,485" fill="none" stroke="#000" stroke-width="3.2"/>
<path d="M852,502 A37,12 0 0 0 926,502" fill="none" stroke="#000" stroke-width="3.4"/>
<path d="M852,502 A37,12 0 0 1 926,502" fill="none" stroke="#000" stroke-width="1.8" stroke-dasharray="12,3"/>
<polyline points="831.3,479.0 846.6,479.0" fill="none" stroke="#000" stroke-width="1.0" />
<polyline points="929.8,499.3 933.0,499.3" fill="none" stroke="#000" stroke-width="1.2" />
<polyline points="948.7,499.3 961.9,499.3" fill="none" stroke="#000" stroke-width="2.1" />
<path d="M857,560 L857,575 C860,581 875,584 889.5,584 C904,584 919,581 922.5,575 L922.5,560 Z" fill="#fff" stroke="#000" stroke-width="1.7"/>
<path d="M857,568 C865,575 912,575 922.5,568 M857,571.5 C865,578.5 912,578.5 922.5,571.5 M870,566 L870,572 M910,566 L910,572" fill="none" stroke="#000" stroke-width="1.0"/>
<polygon points="845.0,551.0 851.0,531.0 863.0,524.0 925.0,528.0 935.0,540.8 933.0,556.0 884.8,569.0 847.0,560.0" fill="#fff" stroke="#000" stroke-width="1.6" stroke-linejoin="round" />
<path d="M847,560 L847,555 L884.8,563 L933,551 M884.8,563 L884.8,569" fill="none" stroke="#000" stroke-width="1.1"/>
<circle cx="851" cy="547" r="2.2" fill="#fff" stroke="#000" stroke-width="1"/><circle cx="929" cy="538" r="2.2" fill="#fff" stroke="#000" stroke-width="1"/><circle cx="886" cy="562" r="2.2" fill="#fff" stroke="#000" stroke-width="1"/>
<path d="M855,533 L855,542 A34,15 0 0 0 923,542 L923,533" fill="#fff" stroke="#000" stroke-width="1.4"/>
<ellipse cx="889.0" cy="533.0" rx="34.0" ry="15.5" transform="rotate(0 889.0 533.0)" fill="#fff" stroke="#000" stroke-width="1.5" />
<ellipse cx="889.0" cy="533.0" rx="30.0" ry="13.0" transform="rotate(0 889.0 533.0)" fill="none" stroke="#000" stroke-width="1.0" />
<ellipse cx="889.0" cy="533.5" rx="26.0" ry="11.5" transform="rotate(0 889.0 533.5)" fill="none" stroke="#000" stroke-width="1.2" />
<ellipse cx="889.0" cy="534.0" rx="22.0" ry="9.5" transform="rotate(0 889.0 534.0)" fill="none" stroke="#000" stroke-width="1.0" />
<ellipse cx="889.0" cy="534.6" rx="17.0" ry="7.2" transform="rotate(0 889.0 534.6)" fill="none" stroke="#000" stroke-width="1.3" />
<ellipse cx="889.0" cy="535.0" rx="13.0" ry="5.5" transform="rotate(0 889.0 535.0)" fill="none" stroke="#000" stroke-width="1.0" />
<polyline points="936.0,541.2 961.9,541.2" fill="none" stroke="#000" stroke-width="2.1" />
<polyline points="889.0,514.0 889.0,545.0" fill="none" stroke="#000" stroke-width="1.0" />
<polyline points="850.0,512.5 850.0,549.0" fill="none" stroke="#000" stroke-width="1.0" />
<polyline points="850.0,565.0 850.0,577.0" fill="none" stroke="#000" stroke-width="1.0" />
<polygon points="852.5,597.2 852.0,579.2 850.2,578.0 848.4,579.2 847.9,597.2" fill="#fff" stroke="#000" stroke-width="1.1" stroke-linejoin="round" />
<path d="M852.5,594.6 L847.9,593.7 M852.5,593.2 L847.9,592.4 M852.5,591.9 L847.9,591.0 M852.5,590.5 L847.9,589.6 M852.5,589.2 L847.9,588.3 M852.5,587.9 L847.9,587.0 M852.5,586.5 L847.9,585.6 M852.5,585.1 L847.9,584.2 M852.5,583.8 L847.9,582.9 M852.5,582.5 L847.9,581.6 M852.5,581.1 L847.9,580.2 M852.5,579.8 L847.9,578.9 " stroke="#000" stroke-width="0.85" fill="none"/>
<ellipse cx="850.2" cy="600.0" rx="4.1" ry="4.6" transform="rotate(-90.0 850.2 600.0)" fill="#fff" stroke="#000" stroke-width="1.6" />
<ellipse cx="850.2" cy="600.6" rx="2.1" ry="2.3" transform="rotate(-90.0 850.2 600.6)" fill="#fff" stroke="#000" stroke-width="0.9" />
<path d="M851.8,600.0 L848.6,600.0" stroke="#000" stroke-width="0.8"/>
<polyline points="834.0,587.9 843.9,587.9" fill="none" stroke="#000" stroke-width="1.0" />
<polyline points="889.0,587.0 889.0,593.0" fill="none" stroke="#000" stroke-width="1.0" />
<path d="M883,596 L883,636 L880,638 L880,650 L884,652 L884,666 L894,666 L894,652 L898,650 L898,638 L895,636 L895,596 Z" fill="#fff" stroke="#000" stroke-width="1.4"/>
<ellipse cx="889.0" cy="596.0" rx="6.0" ry="2.4" transform="rotate(0 889.0 596.0)" fill="#fff" stroke="#000" stroke-width="1.2" />
<path d="M883,605 L895,605 M883,607 L895,607 M880,641 L898,641 M884,652 L894,652" stroke="#000" stroke-width="1.0"/>
<path d="M884,654.0 L894,655.0 M884,655.8 L894,656.8 M884,657.6 L894,658.6 M884,659.4 L894,660.4 M884,661.2 L894,662.2 M884,663.0 L894,664.0 M884,664.8 L894,665.8 " stroke="#000" stroke-width="0.9"/>
<polyline points="898.4,619.3 919.3,619.3" fill="none" stroke="#000" stroke-width="1.0" />
<polyline points="894.2,647.6 909.9,647.6" fill="none" stroke="#000" stroke-width="1.0" />
<polyline points="889.0,668.0 889.0,680.0" fill="none" stroke="#000" stroke-width="1.0" />
<path d="M870.5,683 L870.5,688 A18.6,10 0 0 0 907.8,688 L907.8,683" fill="#fff" stroke="#000" stroke-width="1.8"/>
<ellipse cx="889.2" cy="683.0" rx="18.6" ry="10.0" transform="rotate(0 889.2 683.0)" fill="#fff" stroke="#000" stroke-width="1.8" />
<ellipse cx="889.2" cy="683.0" rx="14.0" ry="7.3" transform="rotate(0 889.2 683.0)" fill="#fff" stroke="#000" stroke-width="1.0" />
<path d="M900.2,681.8 v2.4 M899.5,683.7 v2.4 M897.6,685.4 v2.4 M894.7,686.6 v2.4 M891.1,687.3 v2.4 M887.3,687.3 v2.4 M883.7,686.6 v2.4 M880.8,685.4 v2.4 M878.9,683.7 v2.4 M878.2,681.8 v2.4 M878.9,679.9 v2.4 M880.8,678.2 v2.4 M883.7,677.0 v2.4 M887.3,676.3 v2.4 M891.1,676.3 v2.4 M894.7,677.0 v2.4 M897.6,678.2 v2.4 M899.5,679.9 v2.4 " stroke="#000" stroke-width="1.6"/>
<ellipse cx="889.2" cy="683.0" rx="6.5" ry="3.3" transform="rotate(0 889.2 683.0)" fill="#fff" stroke="#000" stroke-width="1.0" />
<polyline points="908.2,686.4 926.7,686.4" fill="none" stroke="#000" stroke-width="1.0" />
<polyline points="948.7,686.4 961.9,686.4" fill="none" stroke="#000" stroke-width="2.1" />
<polyline points="961.9,336.0 961.9,687.2" fill="none" stroke="#000" stroke-width="2.1" />
<polyline points="945.5,337.0 961.9,337.0" fill="none" stroke="#000" stroke-width="2.1" />
<polyline points="945.5,369.0 961.9,369.0" fill="none" stroke="#000" stroke-width="2.1" />
<polyline points="945.5,401.2 961.9,401.2" fill="none" stroke="#000" stroke-width="2.1" />
<polyline points="945.5,434.2 961.9,434.2" fill="none" stroke="#000" stroke-width="2.1" />
<polyline points="961.9,465.3 970.7,465.3" fill="none" stroke="#000" stroke-width="2.1" />
<path d="M243,848.4 L249.3,848.4 C280,856 310,866 335.2,876.7 C340,874 345,872.5 349.9,872.5 C360,873 370,875 375,877.7 L387.6,884 L476,928 L488.9,934.6 L499.4,936.7 L507.8,945 L518.3,958.7 L574.8,1023.6 L579,1034.1 L578,1055 L572.7,1065.5 L564,1072 L564,1083 C560,1092 545,1097 528,1097 C510,1097 495,1092 491,1083 L490,1075 L480.6,1059.2 L449.1,1044.6 L431.3,1034.1 L416,1017 L380,996 L338,978 L324.8,969.9 L319.5,944.8 L319.5,929 L291.2,913.3 L282.9,905 L251.4,892.4 L236.8,898.7 L226.3,871.4 L228.4,861 Z" fill="#fff" stroke="#000" stroke-width="1.4" stroke-linejoin="round" />
<path d="M227.3,863 C260,872 300,887 324.8,896.6 M233.6,884 L239.9,887.1 L322.7,917.5 M236.8,898.7 L233.6,884 M282.9,905 C290,902 300,905 319.5,912 M251.4,892.4 L250,885" fill="none" stroke="#000" stroke-width="1.1" stroke-linejoin="round"/>
<path d="M330.7,880.7 C326,890 323.5,905 323,931 L323,961.4 L329.1,969 M336,876.9 L330.7,880.7 M391.6,886.8 C370,892 350,905 339.8,918.8 M384,883 l2,-2 l2,3" fill="none" stroke="#000" stroke-width="1.1" stroke-linejoin="round"/>
<path d="M320.5,926.0 l6,1.2 M320.5,930.3 l6,1.2 M320.5,934.6 l6,1.2 M320.5,938.9 l6,1.2 M320.5,943.2 l6,1.2 M320.5,947.5 l6,1.2 M320.5,951.8 l6,1.2 M320.5,956.1 l6,1.2 M320.5,960.4 l6,1.2 M320.5,964.7 l6,1.2 " stroke="#000" stroke-width="1.9" fill="none"/>
<path d="M320,908 L339.8,918.8 L417.5,961.4 M339.8,921.5 L432,968 M339.8,918.8 C337,935 335.5,950 335.2,961.4 L338.3,976.7 M338.3,976.7 L414.5,1022.4 L426.7,1037.6 M336.8,970.6 L413,1016.3 M413,1016.3 L418,1030" fill="none" stroke="#000" stroke-width="1.1" stroke-linejoin="round"/>
<path d="M339,929.4 L368.8,944 L368.8,987.3 L339,972 Z M375,951 L411,969 L413,1014 L375,994 Z" fill="#fff" stroke="#000" stroke-width="1.1" stroke-linejoin="round"/>
<path d="M371,948 C370,960 370,975 372,990" fill="none" stroke="#000" stroke-width="1.1" stroke-linejoin="round"/>
<circle cx="338.3" cy="955.3" r="2" fill="#fff" stroke="#000" stroke-width="1"/>
<path d="M416,963 L421,956 L432,962 L432,978 L425,982 L416,976 Z M421,956 L421,973 L432,978 M421,973 L416,976" fill="#fff" stroke="#000" stroke-width="1.1"/>
<path d="M434.5,964.9 L449.1,948.2 L488.9,935.6 L499.4,936.7 L507.8,945 L518.3,958.7 L574.8,1023.6 L579,1034.1 L578,1055 L572.7,1065.5 L530.8,1076 L524.6,1075 L480.6,1059.2 L449.1,1044.6 L431.3,1034.1 L429.2,1004.8 L430.3,979.6 Z" fill="#fff" stroke="#000" stroke-width="1.3" stroke-linejoin="round"/>
<path d="M526.7,1059.2 L578,1034.1 M526.7,1059.2 L526.7,1075 M480.6,1059.2 L526.7,1059.2 M455,990 C470,1025 495,1045 526.7,1059.2 M452,987 C462,1020 490,1045 520,1058 M448,952 C470,940 490,937 507.8,945 M452,958 C475,948 495,945 512,953" fill="none" stroke="#000" stroke-width="1.1" stroke-linejoin="round"/>
<path d="M505,1000 C520,1010 530,1030 527,1045 C522,1047 515,1045 508,1040" fill="none" stroke="#000" stroke-width="1.1" stroke-linejoin="round"/>
<ellipse cx="491.0" cy="967.0" rx="16.5" ry="11.0" transform="rotate(-10 491.0 967.0)" fill="#fff" stroke="#000" stroke-width="1.2" />
<ellipse cx="491.5" cy="967.5" rx="10.0" ry="6.0" transform="rotate(-10 491.5 967.5)" fill="#fff" stroke="#000" stroke-width="1.0" />
<ellipse cx="491.5" cy="967.5" rx="6.5" ry="3.6" transform="rotate(-10 491.5 967.5)" fill="#fff" stroke="#000" stroke-width="1.0" />
<path d="M448,978 L458,975 L472,990 L470,998 L452,995 L447,990 Z" fill="#fff" stroke="#000" stroke-width="1.2"/>
<ellipse cx="453.0" cy="982.0" rx="3.0" ry="3.0" transform="rotate(0 453.0 982.0)" fill="#fff" stroke="#000" stroke-width="1.0" />
<path d="M481,998 L504,991 L506,996 L483,1003 Z M508,988 L524,980 L526,985 L510,992 Z M484,1008 L512,999 L514,1005 L486,1014 Z M514,995 L531,987 L533,993 L516,1001 Z M505,984 L520,976 L521,979 L506,987 Z" fill="#fff" stroke="#000" stroke-width="1.1"/>
<path d="M497,1003 l6,-3 l-2,5 z M522,990 l5,-3 l-2,5 z" fill="#000"/>
<ellipse cx="463.8" cy="1029.9" rx="9.0" ry="11.0" transform="rotate(-20 463.8 1029.9)" fill="#fff" stroke="#000" stroke-width="1.3" />
<ellipse cx="464.5" cy="1030.5" rx="5.5" ry="7.0" transform="rotate(-20 464.5 1030.5)" fill="#fff" stroke="#000" stroke-width="1.1" />
<ellipse cx="465.0" cy="1031.0" rx="3.0" ry="4.0" transform="rotate(-20 465.0 1031.0)" fill="#fff" stroke="#000" stroke-width="0.9" />
<ellipse cx="503.6" cy="1025.7" rx="8.5" ry="9.5" transform="rotate(-15 503.6 1025.7)" fill="#fff" stroke="#000" stroke-width="1.3" />
<ellipse cx="503.0" cy="1024.0" rx="5.5" ry="6.0" transform="rotate(-15 503.0 1024.0)" fill="#fff" stroke="#000" stroke-width="1.0" />
<circle cx="502" cy="1024" r="1" fill="#000"/>
<path d="M544,1042 L557,1035 L560,1038 L547,1045 Z M544,1042 L549,1037" fill="#fff" stroke="#000" stroke-width="1.0"/>
<path d="M449,1044.6 L450,1050 L458,1054 L458,1048 M463,1048 L465,1058 L473,1062 L473,1052 Z M478,1055 L480,1062 L487,1065" fill="#fff" stroke="#000" stroke-width="1.0"/>
<path d="M492,1070 L491,1085 C495,1093 510,1097 528,1097 C546,1097 562,1092 564.4,1085 L564,1068 L530.8,1076 L524.6,1075 Z" fill="#fff" stroke="#000" stroke-width="1.3" stroke-linejoin="round"/>
<path d="M492,1080 C500,1088 515,1090 528,1090 C545,1090 558,1086 564.2,1079 M493,1083 C502,1091 515,1093 528,1093 C545,1093 558,1089 564.3,1082 M510,1082 l2,-4 l8,0 M540,1082 l2,-4 l8,0" fill="none" stroke="#000" stroke-width="1.1" stroke-linejoin="round"/>
<rect x="520.4" y="1097" width="12.6" height="14" fill="#fff" stroke="#000" stroke-width="1.1"/>
<path d="M520.4,1098.5 L533,1099.5 M520.4,1100.3 L533,1101.3 M520.4,1102.1 L533,1103.1 M520.4,1103.9 L533,1104.9 M520.4,1105.7 L533,1106.7 M520.4,1107.5 L533,1108.5 M520.4,1109.3 L533,1110.3 " stroke="#000" stroke-width="0.9"/>
<polyline points="527.5,1113.3 527.5,1202.7" fill="none" stroke="#000" stroke-width="1.0" />
<polyline points="527.5,1229.3 527.5,1277.3" fill="none" stroke="#000" stroke-width="1.0" />
<polyline points="549.8,983.6 570.3,976.1" fill="none" stroke="#000" stroke-width="1.0" />
<polyline points="556.0,987.9 627.2,1025.0 645.8,1015.8" fill="none" stroke="#000" stroke-width="1.0" />
<path d="M617.9,936.6 L675.7,912.1 L696.3,944.3 L632,968.7 Z" fill="#fff" stroke="none"/>
<path d="M617.9,936.6 C640,926 660,918 675.7,912.1 M632,968.7 C655,960 680,950 696.3,944.3" fill="none" stroke="#000" stroke-width="1.8"/>
<ellipse cx="691.1" cy="923.7" rx="17.5" ry="23.5" transform="rotate(-20 691.1 923.7)" fill="#fff" stroke="#000" stroke-width="1.8" />
<ellipse cx="688.0" cy="925.0" rx="12.0" ry="19.0" transform="rotate(-20 688.0 925.0)" fill="#fff" stroke="#000" stroke-width="1.1" />
<ellipse cx="611.0" cy="960.0" rx="20.5" ry="31.0" transform="rotate(-13 611.0 960.0)" fill="#fff" stroke="#000" stroke-width="2.0" />
<ellipse cx="607.5" cy="961.3" rx="20.3" ry="30.3" transform="rotate(-13 607.5 961.3)" fill="#fff" stroke="#000" stroke-width="1.0" />
<ellipse cx="604.0" cy="962.6" rx="20.1" ry="29.6" transform="rotate(-13 604.0 962.6)" fill="#fff" stroke="#000" stroke-width="1.0" />
<ellipse cx="600.5" cy="963.9" rx="19.9" ry="28.9" transform="rotate(-13 600.5 963.9)" fill="#fff" stroke="#000" stroke-width="1.0" />
<ellipse cx="597.0" cy="965.2" rx="19.7" ry="28.3" transform="rotate(-13 597.0 965.2)" fill="#fff" stroke="#000" stroke-width="1.0" />
<ellipse cx="593.0" cy="966.5" rx="19.5" ry="27.8" transform="rotate(-13 593.0 966.5)" fill="#fff" stroke="#000" stroke-width="2.0" />
<ellipse cx="593.5" cy="966.3" rx="16.8" ry="25.0" transform="rotate(-13 593.5 966.3)" fill="none" stroke="#000" stroke-width="0.9" />
<ellipse cx="589.0" cy="969.5" rx="8.5" ry="4.7" transform="rotate(-102.7 589.0 969.5)" fill="#fff" stroke="#000" stroke-width="1.4"/>
<polygon points="587.1,961.2 579.3,963.0 583.1,979.5 590.9,977.8" fill="#fff" stroke="none"/>
<path d="M587.1,961.2 L579.3,963.0 M583.1,979.5 L590.9,977.8" stroke="#000" stroke-width="1.4" fill="none"/>
<ellipse cx="581.2" cy="971.3" rx="8.5" ry="4.7" transform="rotate(-102.7 581.2 971.3)" fill="#fff" stroke="#000" stroke-width="1.4"/>
<ellipse cx="581.2" cy="971.3" rx="5.6" ry="3.1" transform="rotate(-102.7 581.2 971.3)" fill="#fff" stroke="#000" stroke-width="1.3"/>
<polygon points="580.0,965.8 567.3,968.7 569.8,979.6 582.4,976.7" fill="#fff" stroke="none"/>
<path d="M580.0,965.8 L567.3,968.7 M569.8,979.6 L582.4,976.7" stroke="#000" stroke-width="1.3" fill="none"/>
<ellipse cx="568.5" cy="974.1" rx="5.6" ry="3.1" transform="rotate(-102.7 568.5 974.1)" fill="#fff" stroke="#000" stroke-width="1.3"/>
<path d="M579.0,966.0 C577.2,969.5 577.2,973.5 581.5,976.9 M577.0,966.5 C575.3,969.9 575.3,973.9 579.5,977.4 M575.1,966.9 C573.3,970.4 573.3,974.4 577.6,977.8 M573.1,967.3 C571.4,970.8 571.4,974.8 575.6,978.3 M571.2,967.8 C569.4,971.2 569.4,975.2 573.7,978.7 M569.2,968.2 C567.5,971.7 567.5,975.7 571.7,979.1 " stroke="#000" stroke-width="0.9" fill="none"/>
<ellipse cx="568.5" cy="974.1" rx="4.2" ry="2.3" transform="rotate(-102.7 568.5 974.1)" fill="#fff" stroke="#000" stroke-width="1.2"/>
<polygon points="567.6,970.0 564.7,970.7 566.5,978.9 569.4,978.2" fill="#fff" stroke="none"/>
<path d="M567.6,970.0 L564.7,970.7 M566.5,978.9 L569.4,978.2" stroke="#000" stroke-width="1.2" fill="none"/>
<ellipse cx="565.6" cy="974.8" rx="4.2" ry="2.3" transform="rotate(-102.7 565.6 974.8)" fill="#fff" stroke="#000" stroke-width="1.2"/>
<polyline points="645.0,904.4 645.0,921.0" fill="none" stroke="#000" stroke-width="1.0" />
<path d="M679.6,984.1 L740,955.9 L760.6,988 L693.7,1012.4 Z" fill="#fff" stroke="none"/>
<path d="M679.6,984.1 C700,975 722,964 740,955.9 M693.7,1012.4 C715,1004 740,995 760.6,988" fill="none" stroke="#000" stroke-width="1.8"/>
<ellipse cx="755.4" cy="968.7" rx="14.5" ry="21.0" transform="rotate(-20 755.4 968.7)" fill="#fff" stroke="#000" stroke-width="1.8" />
<ellipse cx="752.0" cy="970.0" rx="10.0" ry="17.0" transform="rotate(-20 752.0 970.0)" fill="#fff" stroke="#000" stroke-width="1.1" />
<ellipse cx="668.0" cy="1006.0" rx="25.0" ry="33.4" transform="rotate(-15 668.0 1006.0)" fill="#fff" stroke="#000" stroke-width="1.8" />
<ellipse cx="666.0" cy="1007.0" rx="21.5" ry="29.5" transform="rotate(-15 666.0 1007.0)" fill="#fff" stroke="#000" stroke-width="1.0" />
<ellipse cx="667.0" cy="1009.0" rx="9.0" ry="5.0" transform="rotate(-101.5 667.0 1009.0)" fill="#fff" stroke="#000" stroke-width="1.4"/>
<polygon points="665.2,1000.2 656.4,1002.0 660.0,1019.6 668.8,1017.8" fill="#fff" stroke="none"/>
<path d="M665.2,1000.2 L656.4,1002.0 M660.0,1019.6 L668.8,1017.8" stroke="#000" stroke-width="1.4" fill="none"/>
<ellipse cx="658.2" cy="1010.8" rx="9.0" ry="5.0" transform="rotate(-101.5 658.2 1010.8)" fill="#fff" stroke="#000" stroke-width="1.4"/>
<ellipse cx="658.2" cy="1010.8" rx="5.8" ry="3.2" transform="rotate(-101.5 658.2 1010.8)" fill="#fff" stroke="#000" stroke-width="1.3"/>
<polygon points="657.0,1005.1 645.3,1007.5 647.6,1018.9 659.3,1016.5" fill="#fff" stroke="none"/>
<path d="M657.0,1005.1 L645.3,1007.5 M647.6,1018.9 L659.3,1016.5" stroke="#000" stroke-width="1.3" fill="none"/>
<ellipse cx="646.4" cy="1013.2" rx="5.8" ry="3.2" transform="rotate(-101.5 646.4 1013.2)" fill="#fff" stroke="#000" stroke-width="1.3"/>
<path d="M656.0,1005.3 C654.2,1009.0 654.2,1013.0 658.4,1016.7 M654.1,1005.7 C652.2,1009.4 652.2,1013.4 656.4,1017.1 M652.1,1006.1 C650.3,1009.8 650.3,1013.8 654.4,1017.5 M650.2,1006.5 C648.3,1010.2 648.3,1014.2 652.5,1017.9 M648.2,1006.9 C646.4,1010.6 646.4,1014.6 650.5,1018.3 M646.2,1007.3 C644.4,1011.0 644.4,1015.0 648.6,1018.7 " stroke="#000" stroke-width="0.9" fill="none"/>
<ellipse cx="646.4" cy="1013.2" rx="4.3" ry="2.4" transform="rotate(-101.5 646.4 1013.2)" fill="#fff" stroke="#000" stroke-width="1.2"/>
<polygon points="645.6,1009.0 641.6,1009.8 643.4,1018.2 647.3,1017.4" fill="#fff" stroke="none"/>
<path d="M645.6,1009.0 L641.6,1009.8 M643.4,1018.2 L647.3,1017.4" stroke="#000" stroke-width="1.2" fill="none"/>
<ellipse cx="642.5" cy="1014.0" rx="4.3" ry="2.4" transform="rotate(-101.5 642.5 1014.0)" fill="#fff" stroke="#000" stroke-width="1.2"/>
<polyline points="751.0,930.1 751.0,948.0" fill="none" stroke="#000" stroke-width="1.0" />
<path d="M604.3,1163.5 C590,1155 567.6,1149.9 567.6,1149.9 C550,1146.5 540,1145.7 525.7,1145.7 C505,1146 483.8,1151 483.8,1151 C470,1155 460,1160 450.3,1165.6 C440,1172 432,1178 427.2,1186.6 C422,1195 418.9,1209.6 418.9,1209.6 C418,1218 419,1224 421,1228.5 C424,1236 428,1242 431.4,1247.3 C436,1254 440,1258 444,1262 L450,1268 Q452,1271 455,1269 L454,1265 L453.4,1250.5 L500.6,1224.3 L565.5,1185.5 L584.4,1178.2 L601,1186.6 L606.4,1183 L606.4,1166 Z" fill="#fff" stroke="#000" stroke-width="2.0" stroke-linejoin="round" />
<path d="M423,1199 C421,1210 421,1222 425,1232 C430,1245 440,1256 453.4,1265 M427.2,1201.2 C428,1220 437,1238 453.4,1250.5 M584.4,1178.2 L584.4,1168 L604.3,1163.5 M584.4,1168 C570,1160 555,1155 540,1153" fill="none" stroke="#000" stroke-width="1.1"/>
<path d="M490.1,1186.6 L490.1,1205 C492,1216 508,1224.3 527.8,1224.3 C548,1224.3 563,1216 565.5,1205 L565.5,1186.6 Z" fill="#fff" stroke="#000" stroke-width="1.6"/>
<ellipse cx="527.8" cy="1186.6" rx="37.7" ry="18.0" transform="rotate(0 527.8 1186.6)" fill="#fff" stroke="#000" stroke-width="1.6" />
<ellipse cx="527.8" cy="1188.0" rx="34.5" ry="15.5" transform="rotate(0 527.8 1188.0)" fill="none" stroke="#000" stroke-width="0.9" />
<path d="M494,1196 C500,1185 515,1180 527.8,1180 C542,1180 555,1185 561,1196" fill="none" stroke="#000" stroke-width="1.6"/>
<path d="M552,1180 L552,1200 M556,1182 L556,1198" stroke="#000" stroke-width="0.9"/>
<path d="M527.8,1215.9 l10,-2 l0,2.4 l-10,2 z" fill="#fff" stroke="#000" stroke-width="0.9"/>
<path d="M500.6,1209.6 L509,1207 L509,1228.5 L502,1230 Z M513.1,1212 L521.5,1208 L521.5,1229 L514,1232 Z" fill="#fff" stroke="#000" stroke-width="1.3"/>
<path d="M508,1218 L514,1218 M508,1220 L514,1220 M508,1222 L514,1222" stroke="#000" stroke-width="1.3"/>
<ellipse cx="504.5" cy="1217.0" rx="2.5" ry="3.0" transform="rotate(0 504.5 1217.0)" fill="#fff" stroke="#000" stroke-width="1" />
<ellipse cx="518.0" cy="1219.0" rx="2.5" ry="3.0" transform="rotate(0 518.0 1219.0)" fill="#fff" stroke="#000" stroke-width="1" />
<polyline points="392.0,1216.0 416.0,1216.0" fill="none" stroke="#000" stroke-width="1.0" />
<polyline points="527.5,1160.0 527.5,1202.7" fill="none" stroke="#000" stroke-width="1.0" />
<path d="M505.9,1276 L505.9,1283 A21.9,10 0 0 0 549.7,1283 L549.7,1276" fill="#fff" stroke="#000" stroke-width="1.8"/>
<ellipse cx="527.8" cy="1276.0" rx="21.9" ry="11.0" transform="rotate(0 527.8 1276.0)" fill="#fff" stroke="#000" stroke-width="1.6" />
<ellipse cx="527.8" cy="1276.0" rx="18.0" ry="8.8" transform="rotate(0 527.8 1276.0)" fill="none" stroke="#000" stroke-width="1.0" />
<ellipse cx="527.8" cy="1276.0" rx="14.0" ry="6.8" transform="rotate(0 527.8 1276.0)" fill="none" stroke="#000" stroke-width="1.0" />
<ellipse cx="527.8" cy="1276.0" rx="10.0" ry="4.8" transform="rotate(0 527.8 1276.0)" fill="none" stroke="#000" stroke-width="1.0" />
<ellipse cx="527.8" cy="1276.0" rx="6.0" ry="2.8" transform="rotate(0 527.8 1276.0)" fill="none" stroke="#000" stroke-width="1.0" />
<path d="M510,1285 C520,1290 536,1290 546,1285" fill="none" stroke="#000" stroke-width="0.9"/>
<polyline points="527.8,1262.0 527.8,1278.0" fill="none" stroke="#000" stroke-width="1.0" />
<polyline points="455.6,1290.5 466.3,1290.5" fill="none" stroke="#000" stroke-width="2.1" />
<polyline points="505.8,1280.8 466.3,1280.8 466.3,1299.2 478.3,1299.2" fill="none" stroke="#000" stroke-width="2.1" />
<ellipse cx="527.8" cy="1300.2" rx="15.4" ry="7.2" transform="rotate(0 527.8 1300.2)" fill="none" stroke="#000" stroke-width="2.2" />
<polyline points="501.9,1299.2 510.7,1299.2" fill="none" stroke="#000" stroke-width="1.0" />
<polyline points="527.8,1313.1 527.8,1350.4" fill="none" stroke="#000" stroke-width="1.0" />
<polyline points="527.8,1321.9 645.1,1321.9 645.1,1347.2" fill="none" stroke="#000" stroke-width="1.0" />
<path d="M504.6,1347 L504.6,1352 A23.2,12 0 0 0 551,1352 L551,1347" fill="#fff" stroke="#000" stroke-width="1.8"/>
<ellipse cx="527.8" cy="1347.0" rx="23.2" ry="13.0" transform="rotate(0 527.8 1347.0)" fill="#fff" stroke="#000" stroke-width="1.6" />
<ellipse cx="527.8" cy="1347.0" rx="12.0" ry="6.0" transform="rotate(0 527.8 1347.0)" fill="none" stroke="#000" stroke-width="1.0" />
<ellipse cx="527.8" cy="1347.0" rx="7.0" ry="3.4" transform="rotate(0 527.8 1347.0)" fill="none" stroke="#000" stroke-width="1.0" />
<ellipse cx="512.0" cy="1341.0" rx="2.5" ry="1.5" transform="rotate(0 512.0 1341.0)" fill="#fff" stroke="#000" stroke-width="0.9" />
<ellipse cx="543.0" cy="1352.0" rx="2.5" ry="1.5" transform="rotate(0 543.0 1352.0)" fill="#fff" stroke="#000" stroke-width="0.9" />
<ellipse cx="514.0" cy="1354.0" rx="2.5" ry="1.5" transform="rotate(0 514.0 1354.0)" fill="#fff" stroke="#000" stroke-width="0.9" />
<polyline points="527.8,1332.0 527.8,1349.0" fill="none" stroke="#000" stroke-width="1.0" />
<polyline points="486.4,1349.7 504.2,1349.7" fill="none" stroke="#000" stroke-width="1.0" />
<path d="M618,1347 L618,1364 A26.4,11 0 0 0 670.8,1364 L670.8,1347" fill="#fff" stroke="#000" stroke-width="1.8"/>
<path d="M618.0,1348.6 L618.0,1362.6 M618.3,1349.7 L618.3,1363.7 M618.9,1350.8 L618.9,1364.8 M619.8,1351.9 L619.8,1365.9 M620.9,1353.0 L620.9,1367.0 M622.3,1354.0 L622.3,1368.0 M623.9,1354.9 L623.9,1368.9 M625.7,1355.8 L625.7,1369.8 M627.8,1356.5 L627.8,1370.5 M630.0,1357.2 L630.0,1371.2 M632.4,1357.8 L632.4,1371.8 M634.9,1358.3 L634.9,1372.3 M637.6,1358.6 L637.6,1372.6 M640.3,1358.9 L640.3,1372.9 M643.0,1359.0 L643.0,1373.0 M645.8,1359.0 L645.8,1373.0 M648.5,1358.9 L648.5,1372.9 M651.2,1358.6 L651.2,1372.6 M653.9,1358.3 L653.9,1372.3 M656.4,1357.8 L656.4,1371.8 M658.8,1357.2 L658.8,1371.2 M661.0,1356.5 L661.0,1370.5 M663.1,1355.8 L663.1,1369.8 M664.9,1354.9 L664.9,1368.9 M666.5,1354.0 L666.5,1368.0 M667.9,1353.0 L667.9,1367.0 M669.0,1351.9 L669.0,1365.9 M669.9,1350.8 L669.9,1364.8 M670.5,1349.7 L670.5,1363.7 M670.8,1348.6 L670.8,1362.6 " stroke="#000" stroke-width="1.0"/>
<ellipse cx="644.4" cy="1347.0" rx="26.4" ry="12.5" transform="rotate(0 644.4 1347.0)" fill="#fff" stroke="#000" stroke-width="1.8" />
<ellipse cx="644.4" cy="1347.0" rx="21.0" ry="9.8" transform="rotate(0 644.4 1347.0)" fill="none" stroke="#000" stroke-width="1.0" />
<ellipse cx="644.4" cy="1347.0" rx="16.0" ry="7.4" transform="rotate(0 644.4 1347.0)" fill="#fff" stroke="#000" stroke-width="1.0" />
<ellipse cx="644.4" cy="1347.0" rx="13.0" ry="6.0" transform="rotate(0 644.4 1347.0)" fill="none" stroke="#000" stroke-width="3.2" stroke-dasharray="1.6,1.4"/>
<ellipse cx="644.4" cy="1347.0" rx="10.0" ry="4.6" transform="rotate(0 644.4 1347.0)" fill="#fff" stroke="#000" stroke-width="1.0" />
<ellipse cx="644.4" cy="1347.0" rx="5.0" ry="2.3" transform="rotate(0 644.4 1347.0)" fill="none" stroke="#000" stroke-width="1.0" />
<polyline points="645.1,1333.0 645.1,1349.0" fill="none" stroke="#000" stroke-width="1.0" />
<polyline points="672.6,1355.2 688.1,1355.2" fill="none" stroke="#000" stroke-width="1.0" />
<g><path d="M555.4,1268 v20 M558,1268 v5 M558,1276 v4 M558,1283 v5" stroke="#000" stroke-width="1.1"/><rect x="558" y="1268" width="9" height="4" fill="#fff" stroke="#000" stroke-width="1"/><path d="M566,1272 L578,1272 L578,1266.5 L586,1266.5 L594,1274 L594,1282 L584,1282 L584,1289 L572,1289 L572,1283 L566,1283 Z" fill="#000"/><circle cx="580" cy="1280" r="2" fill="#fff"/></g>
<g><path d="M556.7,1337 v21 M559,1337 v5 M559,1346 v4 M559,1353 v5" stroke="#000" stroke-width="1.1"/><rect x="560" y="1339" width="18" height="17" fill="#000"/><rect x="578" y="1339" width="18" height="13" fill="#fff" stroke="#000" stroke-width="1.8"/><rect x="563" y="1345" width="4" height="3" fill="#fff"/></g>
<path d="M730,1366.3 L725.2,1366.3 L722.3,1372.4 L729.5,1372.4 M735.5,1364.2 L731.8,1372.4 L735.5,1372.4 M740.2,1366.3 L737.3,1372.4 M748.5,1366.3 L743.7,1366.3 L740.8,1372.4 L748,1372.4" fill="none" stroke="#000" stroke-width="1.9" stroke-linejoin="miter"/>
<path d="M740.3,1363.6 l1.6,0" stroke="#000" stroke-width="1.9"/>
<path d="M749.7,1314.3 L932.6,1217.1 C940,1214 946,1217 945,1224 C944,1229 941,1230 940.6,1229.7 L776,1332.6 C765,1336 755,1336 747.4,1333.7 C741,1330 740,1322 742.9,1318 Z" fill="#fff" stroke="#000" stroke-width="1.7" stroke-linejoin="round" />
<path d="M744,1326 C748,1331 758,1331 770,1328 L940,1227" fill="none" stroke="#000" stroke-width="1.0"/>
<ellipse cx="925.7" cy="1227.0" rx="6.0" ry="3.2" transform="rotate(-25 925.7 1227.0)" fill="#fff" stroke="#000" stroke-width="1.2" />
<ellipse cx="768.0" cy="1318.9" rx="9.0" ry="5.0" transform="rotate(-25 768.0 1318.9)" fill="#fff" stroke="#000" stroke-width="1.3" />
<path d="M751.9,1316 L751.9,1323 A3.5,1.6 0 0 0 758.9,1323 L758.9,1316 Z" fill="#fff" stroke="#000" stroke-width="1.1"/>
<ellipse cx="755.4" cy="1316.0" rx="3.5" ry="1.6" transform="rotate(0 755.4 1316.0)" fill="#fff" stroke="#000" stroke-width="1.1" />
<path d="M777.8,1301.3 L777.8,1308.3 A3.5,1.6 0 0 0 784.8,1308.3 L784.8,1301.3 Z" fill="#fff" stroke="#000" stroke-width="1.1"/>
<ellipse cx="781.3" cy="1301.3" rx="3.5" ry="1.6" transform="rotate(0 781.3 1301.3)" fill="#fff" stroke="#000" stroke-width="1.1" />
<polyline points="853.7,1286.9 853.7,1305.1" fill="none" stroke="#000" stroke-width="1.0" />
<circle cx="690" cy="1262" r="0.9" fill="#000"/>
<text x="48.3" y="51.7" font-size="10.5" font-weight="normal" text-anchor="start" >0 601 850 103</text>
<text x="48.3" y="67.0" font-size="10.2" font-weight="normal" text-anchor="start" >Stand</text>
<text x="48.3" y="77.8" font-size="10.2" font-weight="normal" text-anchor="start" >Issue</text>
<text x="89.0" y="72.1" font-size="10.4" font-weight="normal" text-anchor="start" >04-09-15</text>
<text x="182.3" y="71.7" font-size="14.5" font-weight="bold" text-anchor="middle" fill="#fff">Fig./Abb. 1</text>
<text x="48.3" y="794.7" font-size="10.5" font-weight="normal" text-anchor="start" >0 601 850 103</text>
<text x="48.3" y="810.0" font-size="10.2" font-weight="normal" text-anchor="start" >Stand</text>
<text x="48.3" y="820.8" font-size="10.2" font-weight="normal" text-anchor="start" >Issue</text>
<text x="88.6" y="810.0" font-size="10.4" font-weight="normal" text-anchor="start" >04-09-15</text>
<text x="88.6" y="820.4" font-size="10.4" font-weight="normal" text-anchor="start" >04-09-22</text>
<text x="182.3" y="814.7" font-size="14.5" font-weight="bold" text-anchor="middle" fill="#fff">Fig./Abb. 2</text>
<text x="50.0" y="658.1" font-size="10.5" font-weight="normal" text-anchor="start" >Änderungen vorbehalten</text>
<text x="50.0" y="669.5" font-size="10.5" font-weight="normal" text-anchor="start" >Modifications reserved</text>
<text x="50.0" y="681.0" font-size="10.5" font-weight="normal" text-anchor="start" >Modifications reservees</text>
<text x="50.0" y="692.4" font-size="10.5" font-weight="normal" text-anchor="start" >Salvo modificaciones</text>
<text x="50.0" y="1405.2" font-size="10.5" font-weight="normal" text-anchor="start" >Änderungen vorbehalten</text>
<text x="50.0" y="1416.6" font-size="10.5" font-weight="normal" text-anchor="start" >Modifications reserved</text>
<text x="50.0" y="1428.1" font-size="10.5" font-weight="normal" text-anchor="start" >Modifications reservees</text>
<text x="50.0" y="1439.5" font-size="10.5" font-weight="normal" text-anchor="start" >Salvo modificaciones</text>
<text x="494.7" y="70.8" font-size="13.4" font-weight="bold" text-anchor="middle" >813</text>
<text x="649.0" y="79.5" font-size="13.4" font-weight="bold" text-anchor="middle" >803</text>
<text x="612.0" y="116.3" font-size="13.4" font-weight="bold" text-anchor="middle" >835</text>
<text x="666.5" y="143.1" font-size="13.4" font-weight="bold" text-anchor="middle" >846</text>
<text x="700.5" y="188.8" font-size="13.4" font-weight="bold" text-anchor="middle" >38</text>
<text x="723.6" y="195.4" font-size="13.4" font-weight="bold" text-anchor="middle" >814</text>
<text x="749.9" y="217.6" font-size="13.4" font-weight="bold" text-anchor="middle" >33</text>
<text x="790.0" y="80.4" font-size="13.4" font-weight="bold" text-anchor="middle" >30</text>
<text x="943.5" y="88.8" font-size="13.4" font-weight="bold" text-anchor="middle" >840</text>
<text x="910.0" y="103.8" font-size="13.4" font-weight="bold" text-anchor="middle" >29</text>
<text x="987.0" y="122.8" font-size="13.4" font-weight="bold" text-anchor="middle" >821</text>
<text x="935.0" y="138.8" font-size="13.4" font-weight="bold" text-anchor="middle" >61</text>
<text x="947.0" y="243.4" font-size="13.4" font-weight="bold" text-anchor="middle" >60</text>
<text x="949.0" y="278.8" font-size="13.4" font-weight="bold" text-anchor="middle" >851</text>
<text x="841.6" y="242.3" font-size="13.4" font-weight="bold" text-anchor="middle" >45</text>
<text x="817.5" y="314.8" font-size="13.4" font-weight="bold" text-anchor="middle" >826</text>
<text x="936.0" y="341.8" font-size="13.4" font-weight="bold" text-anchor="middle" >35</text>
<text x="936.0" y="373.8" font-size="13.4" font-weight="bold" text-anchor="middle" >32</text>
<text x="936.0" y="406.0" font-size="13.4" font-weight="bold" text-anchor="middle" >848</text>
<text x="936.0" y="439.0" font-size="13.4" font-weight="bold" text-anchor="middle" >850</text>
<text x="984.3" y="470.1" font-size="13.4" font-weight="bold" text-anchor="middle" >822</text>
<text x="821.9" y="483.8" font-size="13.4" font-weight="bold" text-anchor="middle" >34</text>
<text x="940.3" y="504.1" font-size="13.4" font-weight="bold" text-anchor="middle" >28</text>
<text x="824.0" y="592.7" font-size="13.4" font-weight="bold" text-anchor="middle" >60</text>
<text x="927.7" y="624.1" font-size="13.4" font-weight="bold" text-anchor="middle" >25</text>
<text x="940.3" y="691.2" font-size="13.4" font-weight="bold" text-anchor="middle" >37</text>
<text x="147.0" y="170.8" font-size="13.4" font-weight="bold" text-anchor="middle" >6</text>
<text x="314.5" y="171.8" font-size="13.4" font-weight="bold" text-anchor="middle" >805</text>
<text x="400.0" y="199.8" font-size="13.4" font-weight="bold" text-anchor="middle" >24</text>
<text x="203.0" y="230.8" font-size="13.4" font-weight="bold" text-anchor="middle" >66</text>
<text x="276.0" y="241.8" font-size="13.4" font-weight="bold" text-anchor="middle" >63</text>
<text x="207.1" y="260.1" font-size="13.4" font-weight="bold" text-anchor="middle" >7</text>
<text x="196.0" y="323.4" font-size="13.4" font-weight="bold" text-anchor="middle" >24</text>
<text x="275.4" y="387.2" font-size="13.4" font-weight="bold" text-anchor="middle" >804</text>
<text x="322.5" y="369.7" font-size="13.4" font-weight="bold" text-anchor="middle" >68</text>
<text x="346.6" y="369.7" font-size="13.4" font-weight="bold" text-anchor="middle" >53</text>
<text x="96.0" y="391.8" font-size="13.4" font-weight="bold" text-anchor="middle" >65</text>
<text x="161.0" y="431.8" font-size="13.4" font-weight="bold" text-anchor="middle" >62</text>
<text x="529.6" y="292.5" font-size="13.4" font-weight="bold" text-anchor="middle" >810</text>
<text x="625.0" y="315.3" font-size="13.4" font-weight="bold" text-anchor="middle" >64</text>
<text x="625.6" y="347.3" font-size="13.4" font-weight="bold" text-anchor="middle" >23</text>
<text x="455.0" y="370.2" font-size="13.4" font-weight="bold" text-anchor="middle" >816</text>
<text x="551.9" y="376.9" font-size="13.4" font-weight="bold" text-anchor="middle" >64</text>
<text x="594.6" y="415.9" font-size="13.4" font-weight="bold" text-anchor="middle" >9</text>
<text x="353.4" y="417.8" font-size="13.4" font-weight="bold" text-anchor="middle" >1</text>
<text x="343.5" y="437.4" font-size="13.4" font-weight="bold" text-anchor="middle" >816</text>
<text x="272.9" y="452.8" font-size="13.4" font-weight="bold" text-anchor="middle" >810</text>
<text x="243.3" y="473.4" font-size="13.4" font-weight="bold" text-anchor="middle" >23</text>
<text x="213.8" y="490.5" font-size="13.4" font-weight="bold" text-anchor="middle" >64</text>
<text x="329.0" y="529.6" font-size="13.4" font-weight="bold" text-anchor="middle" >64</text>
<text x="643.8" y="444.8" font-size="13.4" font-weight="bold" text-anchor="middle" >2</text>
<text x="516.8" y="508.9" font-size="13.4" font-weight="bold" text-anchor="middle" >39</text>
<text x="396.8" y="540.8" font-size="13.4" font-weight="bold" text-anchor="middle" >9</text>
<text x="429.4" y="540.8" font-size="13.4" font-weight="bold" text-anchor="middle" >808</text>
<text x="704.7" y="540.2" font-size="13.4" font-weight="bold" text-anchor="middle" >31</text>
<text x="945.7" y="263.0" font-size="13.4" font-weight="normal" text-anchor="middle" >51</text>
<text x="321.0" y="155.8" font-size="13.4" font-weight="normal" text-anchor="middle" >5</text>
<text x="912.0" y="652.4" font-size="13.4" font-weight="normal" text-anchor="start" >SW 17</text>
<text x="528.2" y="533.6" font-size="9.5" font-weight="normal" text-anchor="start" >Fett</text>
<text x="528.2" y="543.1" font-size="9.5" font-weight="normal" text-anchor="start" >grease</text>
<text x="528.2" y="552.6" font-size="9.5" font-weight="normal" text-anchor="start" >graisse</text>
<text x="528.2" y="562.1" font-size="9.5" font-weight="normal" text-anchor="start" >grasa</text>
<circle cx="464" cy="80.5" r="6.6" fill="#fff" stroke="#000" stroke-width="1.3"/>
<text x="464" y="84.1" font-size="10" font-weight="bold" fill="#000" text-anchor="middle">Y</text>
<circle cx="750.6" cy="110.6" r="6.6" fill="#fff" stroke="#000" stroke-width="1.3"/>
<text x="750.6" y="114.2" font-size="10" font-weight="bold" fill="#000" text-anchor="middle">Z</text>
<circle cx="775.1" cy="258.9" r="6.6" fill="#fff" stroke="#000" stroke-width="1.3"/>
<text x="775.1" y="262.5" font-size="10" font-weight="bold" fill="#000" text-anchor="middle">Z</text>
<circle cx="186" cy="181" r="6.6" fill="#fff" stroke="#000" stroke-width="1.3"/>
<text x="186" y="184.6" font-size="10" font-weight="bold" fill="#000" text-anchor="middle">X</text>
<circle cx="309.7" cy="218.7" r="6.6" fill="#fff" stroke="#000" stroke-width="1.3"/>
<text x="309.7" y="222.3" font-size="10" font-weight="bold" fill="#000" text-anchor="middle">X</text>
<circle cx="230" cy="201" r="8.7" fill="#000"/>
<text x="230" y="205.6" font-size="13" font-weight="bold" fill="#fff" text-anchor="middle">B</text>
<circle cx="174" cy="234" r="8.7" fill="#000"/>
<text x="174" y="238.6" font-size="13" font-weight="bold" fill="#fff" text-anchor="middle">A</text>
<circle cx="258.5" cy="259.3" r="8.7" fill="#000"/>
<text x="258.5" y="263.9" font-size="13" font-weight="bold" fill="#fff" text-anchor="middle">B</text>
<circle cx="203.8" cy="290" r="8.7" fill="#000"/>
<text x="203.8" y="294.6" font-size="13" font-weight="bold" fill="#fff" text-anchor="middle">A</text>
<circle cx="500" cy="342.2" r="8.7" fill="#000"/>
<text x="500" y="346.8" font-size="13" font-weight="bold" fill="#fff" text-anchor="middle">F</text>
<circle cx="400" cy="352.8" r="8.7" fill="#000"/>
<text x="400" y="357.4" font-size="13" font-weight="bold" fill="#fff" text-anchor="middle">D</text>
<circle cx="374.1" cy="366.8" r="8.7" fill="#000"/>
<text x="374.1" y="371.4" font-size="13" font-weight="bold" fill="#fff" text-anchor="middle">C</text>
<circle cx="612" cy="382.2" r="8.7" fill="#000"/>
<text x="612" y="386.8" font-size="13" font-weight="bold" fill="#fff" text-anchor="middle">D</text>
<circle cx="299.5" cy="466.3" r="8.7" fill="#000"/>
<text x="299.5" y="470.9" font-size="13" font-weight="bold" fill="#fff" text-anchor="middle">E</text>
<circle cx="519.6" cy="464" r="8.7" fill="#000"/>
<text x="519.6" y="468.6" font-size="13" font-weight="bold" fill="#fff" text-anchor="middle">E</text>
<circle cx="585.4" cy="538.4" r="8.7" fill="#000"/>
<text x="585.4" y="543.0" font-size="13" font-weight="bold" fill="#fff" text-anchor="middle">F</text>
<circle cx="470.6" cy="593.2" r="8.7" fill="#000"/>
<text x="470.6" y="597.8" font-size="13" font-weight="bold" fill="#fff" text-anchor="middle">C</text>
<circle cx="769.1" cy="628" r="6.6" fill="#fff" stroke="#000" stroke-width="1.3"/>
<text x="769.1" y="631.6" font-size="10" font-weight="bold" fill="#000" text-anchor="middle">Y</text>
<text x="644.9" y="902.8" font-size="13.4" font-weight="bold" text-anchor="middle" >891/1</text>
<text x="750.8" y="928.5" font-size="13.4" font-weight="bold" text-anchor="middle" >891</text>
<text x="380.0" y="1220.8" font-size="13.4" font-weight="bold" text-anchor="middle" >651</text>
<text x="444.3" y="1295.3" font-size="13.4" font-weight="bold" text-anchor="middle" >893</text>
<text x="473.4" y="1354.5" font-size="13.4" font-weight="bold" text-anchor="middle" >894</text>
<text x="701.1" y="1360.0" font-size="13.4" font-weight="bold" text-anchor="middle" >896</text>
<text x="853.7" y="1316.8" font-size="13.4" font-weight="bold" text-anchor="middle" >892</text>
<text x="708.6" y="914.2" font-size="10.9" font-weight="normal" text-anchor="start" >Wahlweise / Optional</text>
<text x="489.6" y="1304.0" font-size="13.4" font-weight="normal" text-anchor="middle" >890</text>
<text x="688.8" y="1374.2" font-size="14" font-weight="bold" text-anchor="start" >SDS-</text>
</svg>
</body></html>
